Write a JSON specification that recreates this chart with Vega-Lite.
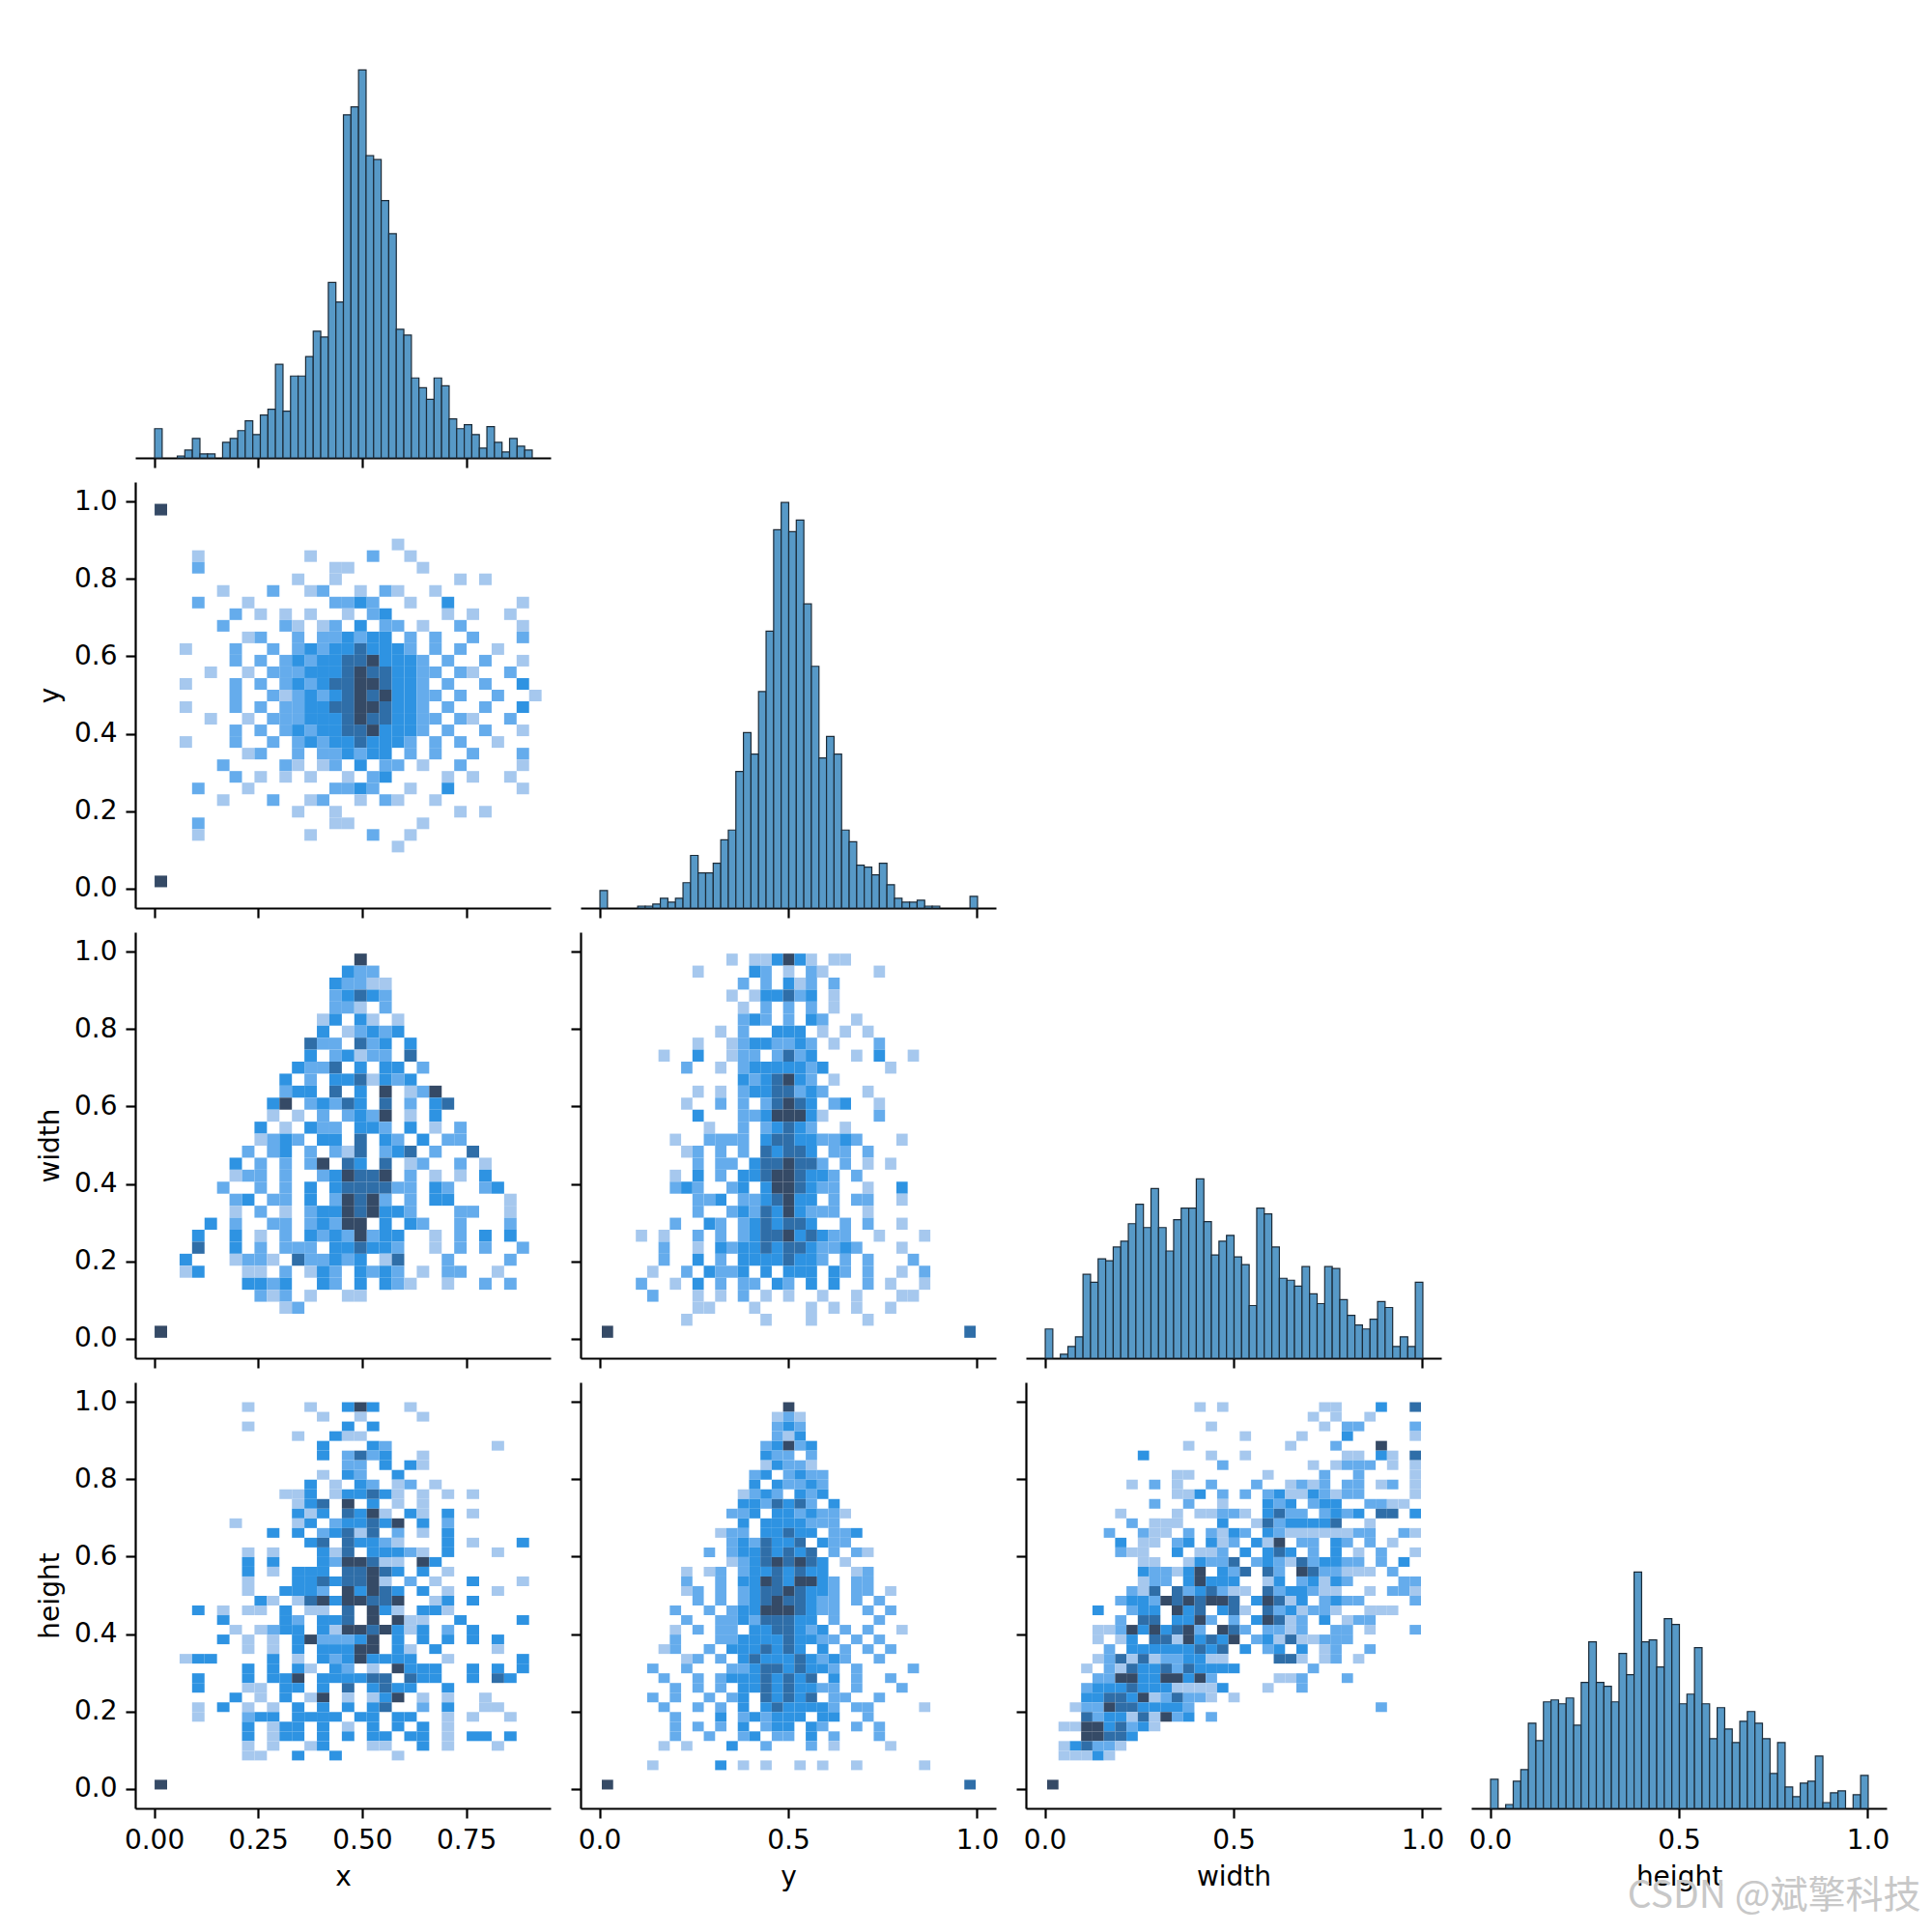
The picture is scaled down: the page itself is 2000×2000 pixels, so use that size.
{
  "$schema": "https://vega.github.io/schema/vega-lite/v6.json",
  "background": "white",
  "padding": {"left": 38, "top": 33, "right": 0, "bottom": 0},
  "columns": 4,
  "bounds": "flush",
  "spacing": {"row": 25, "column": 31},
  "datasets": {
    "hx": [
      {"b":0,"c":15},{"b":0.0545,"c":1},{"b":0.0726,"c":4},{"b":0.0908,"c":10},{"b":0.1089,"c":2},{"b":0.1271,"c":2},
      {"b":0.1634,"c":8},{"b":0.1815,"c":10},{"b":0.1997,"c":14},{"b":0.2178,"c":19},{"b":0.236,"c":12},{"b":0.2541,"c":22},
      {"b":0.2723,"c":25},{"b":0.2904,"c":48},{"b":0.3086,"c":24},{"b":0.3267,"c":42},{"b":0.3449,"c":42},{"b":0.363,"c":52},
      {"b":0.3812,"c":65},{"b":0.3993,"c":62},{"b":0.4175,"c":90},{"b":0.4356,"c":80},{"b":0.4538,"c":176},{"b":0.4719,"c":180},
      {"b":0.4901,"c":199},{"b":0.5082,"c":155},{"b":0.5264,"c":153},{"b":0.5445,"c":132},{"b":0.5627,"c":115},{"b":0.5808,"c":66},
      {"b":0.599,"c":63},{"b":0.6171,"c":41},{"b":0.6353,"c":36},{"b":0.6534,"c":30},{"b":0.6716,"c":41},{"b":0.6897,"c":37},
      {"b":0.7079,"c":20},{"b":0.726,"c":15},{"b":0.7442,"c":17},{"b":0.7623,"c":12},{"b":0.7805,"c":5},{"b":0.7986,"c":16},
      {"b":0.8168,"c":8},{"b":0.8349,"c":3},{"b":0.8531,"c":10},{"b":0.8712,"c":6},{"b":0.8894,"c":4}
    ],
    "hy": [
      {"b":0,"c":9},{"b":0.1,"c":1},{"b":0.12,"c":1},{"b":0.14,"c":2},{"b":0.16,"c":5},{"b":0.18,"c":3},{"b":0.2,"c":5},
      {"b":0.22,"c":13},{"b":0.24,"c":27},{"b":0.26,"c":18},{"b":0.28,"c":18},{"b":0.3,"c":23},{"b":0.32,"c":35},{"b":0.34,"c":40},
      {"b":0.36,"c":70},{"b":0.38,"c":90},{"b":0.4,"c":79},{"b":0.42,"c":111},{"b":0.44,"c":142},{"b":0.46,"c":194},{"b":0.48,"c":208},
      {"b":0.5,"c":193},{"b":0.52,"c":199},{"b":0.54,"c":156},{"b":0.56,"c":124},{"b":0.58,"c":77},{"b":0.6,"c":88},{"b":0.62,"c":79},
      {"b":0.64,"c":40},{"b":0.66,"c":34},{"b":0.68,"c":22},{"b":0.7,"c":21},{"b":0.72,"c":17},{"b":0.74,"c":23},{"b":0.76,"c":12},
      {"b":0.78,"c":5},{"b":0.8,"c":3},{"b":0.82,"c":3},{"b":0.84,"c":4},{"b":0.86,"c":1},{"b":0.88,"c":1},{"b":0.98,"c":6}
    ],
    "hw": [
      {"b":0,"c":15},{"b":0.04,"c":2},{"b":0.06,"c":6},{"b":0.08,"c":11},{"b":0.1,"c":43},{"b":0.12,"c":39},{"b":0.14,"c":51},
      {"b":0.16,"c":50},{"b":0.18,"c":57},{"b":0.2,"c":60},{"b":0.22,"c":69},{"b":0.24,"c":79},{"b":0.26,"c":67},{"b":0.28,"c":87},
      {"b":0.3,"c":67},{"b":0.32,"c":55},{"b":0.34,"c":71},{"b":0.36,"c":77},{"b":0.38,"c":77},{"b":0.4,"c":92},{"b":0.42,"c":70},
      {"b":0.44,"c":53},{"b":0.46,"c":60},{"b":0.48,"c":63},{"b":0.5,"c":52},{"b":0.52,"c":48},{"b":0.54,"c":27},{"b":0.56,"c":77},
      {"b":0.58,"c":74},{"b":0.6,"c":57},{"b":0.62,"c":41},{"b":0.64,"c":40},{"b":0.66,"c":37},{"b":0.68,"c":47},{"b":0.7,"c":33},
      {"b":0.72,"c":28},{"b":0.74,"c":47},{"b":0.76,"c":46},{"b":0.78,"c":30},{"b":0.8,"c":22},{"b":0.82,"c":17},{"b":0.84,"c":15},
      {"b":0.86,"c":20},{"b":0.88,"c":29},{"b":0.9,"c":26},{"b":0.92,"c":6},{"b":0.94,"c":11},{"b":0.96,"c":6},{"b":0.98,"c":39}
    ],
    "hh": [
      {"b":0,"c":15},{"b":0.04,"c":2},{"b":0.06,"c":14},{"b":0.08,"c":20},{"b":0.1,"c":44},{"b":0.12,"c":35},{"b":0.14,"c":55},
      {"b":0.16,"c":56},{"b":0.18,"c":54},{"b":0.2,"c":57},{"b":0.22,"c":43},{"b":0.24,"c":65},{"b":0.26,"c":86},{"b":0.28,"c":65},
      {"b":0.3,"c":63},{"b":0.32,"c":55},{"b":0.34,"c":80},{"b":0.36,"c":69},{"b":0.38,"c":122},{"b":0.4,"c":86},{"b":0.42,"c":87},
      {"b":0.44,"c":73},{"b":0.46,"c":98},{"b":0.48,"c":95},{"b":0.5,"c":54},{"b":0.52,"c":59},{"b":0.54,"c":83},{"b":0.56,"c":54},
      {"b":0.58,"c":36},{"b":0.6,"c":52},{"b":0.62,"c":41},{"b":0.64,"c":34},{"b":0.66,"c":45},{"b":0.68,"c":50},{"b":0.7,"c":44},
      {"b":0.72,"c":36},{"b":0.74,"c":18},{"b":0.76,"c":34},{"b":0.78,"c":11},{"b":0.8,"c":6},{"b":0.82,"c":13},{"b":0.84,"c":14},
      {"b":0.86,"c":27},{"b":0.88,"c":3},{"b":0.9,"c":8},{"b":0.92,"c":9},{"b":0.96,"c":7},{"b":0.98,"c":17}
    ],
    "xy": [
      {"u":0,"v":0.965,"n":5},{"u":0,"v":0.005,"n":5},
      {"u":0.57,"v":0.875,"n":1},
      {"u":0.09,"v":0.845,"n":1},{"u":0.36,"v":0.845,"n":1},{"u":0.51,"v":0.845,"n":2},{"u":0.6,"v":0.845,"n":1},
      {"u":0.09,"v":0.815,"n":2},{"u":0.42,"v":0.815,"n":1},{"u":0.45,"v":0.815,"n":1},{"u":0.63,"v":0.815,"n":1},
      {"u":0.33,"v":0.785,"n":1},{"u":0.42,"v":0.785,"n":1},{"u":0.72,"v":0.785,"n":1},{"u":0.78,"v":0.785,"n":1},
      {"u":0.15,"v":0.755,"n":1},{"u":0.27,"v":0.755,"n":2},{"u":0.36,"v":0.755,"n":1},{"u":0.39,"v":0.755,"n":2},{"u":0.48,"v":0.755,"n":1},{"u":0.54,"v":0.755,"n":2},{"u":0.57,"v":0.755,"n":1},{"u":0.66,"v":0.755,"n":1},
      {"u":0.09,"v":0.725,"n":2},{"u":0.21,"v":0.725,"n":1},{"u":0.42,"v":0.725,"n":2},{"u":0.45,"v":0.725,"n":2},{"u":0.48,"v":0.725,"n":3},{"u":0.51,"v":0.725,"n":2},{"u":0.6,"v":0.725,"n":1},{"u":0.69,"v":0.725,"n":3},{"u":0.87,"v":0.725,"n":1},
      {"u":0.18,"v":0.695,"n":2},{"u":0.24,"v":0.695,"n":1},{"u":0.3,"v":0.695,"n":1},{"u":0.36,"v":0.695,"n":1},{"u":0.45,"v":0.695,"n":1},{"u":0.51,"v":0.695,"n":2},{"u":0.54,"v":0.695,"n":3},{"u":0.69,"v":0.695,"n":1},{"u":0.75,"v":0.695,"n":1},{"u":0.84,"v":0.695,"n":1},
      {"u":0.15,"v":0.665,"n":2},{"u":0.3,"v":0.665,"n":2},{"u":0.33,"v":0.665,"n":1},{"u":0.39,"v":0.665,"n":1},{"u":0.42,"v":0.665,"n":2},{"u":0.48,"v":0.665,"n":3},{"u":0.54,"v":0.665,"n":2},{"u":0.57,"v":0.665,"n":2},{"u":0.63,"v":0.665,"n":1},{"u":0.72,"v":0.665,"n":2},{"u":0.87,"v":0.665,"n":1},
      {"u":0.21,"v":0.635,"n":1},{"u":0.24,"v":0.635,"n":2},{"u":0.33,"v":0.635,"n":2},{"u":0.39,"v":0.635,"n":2},{"u":0.42,"v":0.635,"n":2},{"u":0.45,"v":0.635,"n":3},{"u":0.48,"v":0.635,"n":2},{"u":0.51,"v":0.635,"n":3},{"u":0.54,"v":0.635,"n":3},{"u":0.6,"v":0.635,"n":2},{"u":0.66,"v":0.635,"n":2},{"u":0.75,"v":0.635,"n":2},{"u":0.87,"v":0.635,"n":2},
      {"u":0.06,"v":0.605,"n":1},{"u":0.18,"v":0.605,"n":2},{"u":0.27,"v":0.605,"n":2},{"u":0.33,"v":0.605,"n":2},{"u":0.36,"v":0.605,"n":3},{"u":0.39,"v":0.605,"n":2},{"u":0.42,"v":0.605,"n":3},{"u":0.45,"v":0.605,"n":3},{"u":0.48,"v":0.605,"n":4},{"u":0.51,"v":0.605,"n":3},{"u":0.54,"v":0.605,"n":3},{"u":0.57,"v":0.605,"n":3},{"u":0.6,"v":0.605,"n":2},{"u":0.66,"v":0.605,"n":2},{"u":0.72,"v":0.605,"n":2},{"u":0.81,"v":0.605,"n":1},
      {"u":0.18,"v":0.575,"n":2},{"u":0.24,"v":0.575,"n":2},{"u":0.3,"v":0.575,"n":2},{"u":0.33,"v":0.575,"n":3},{"u":0.36,"v":0.575,"n":2},{"u":0.39,"v":0.575,"n":3},{"u":0.42,"v":0.575,"n":3},{"u":0.45,"v":0.575,"n":4},{"u":0.48,"v":0.575,"n":4},{"u":0.51,"v":0.575,"n":5},{"u":0.54,"v":0.575,"n":3},{"u":0.57,"v":0.575,"n":3},{"u":0.6,"v":0.575,"n":3},{"u":0.63,"v":0.575,"n":2},{"u":0.69,"v":0.575,"n":2},{"u":0.78,"v":0.575,"n":2},{"u":0.87,"v":0.575,"n":1},
      {"u":0.12,"v":0.545,"n":1},{"u":0.21,"v":0.545,"n":1},{"u":0.27,"v":0.545,"n":2},{"u":0.3,"v":0.545,"n":2},{"u":0.33,"v":0.545,"n":2},{"u":0.36,"v":0.545,"n":3},{"u":0.39,"v":0.545,"n":3},{"u":0.42,"v":0.545,"n":3},{"u":0.45,"v":0.545,"n":4},{"u":0.48,"v":0.545,"n":5},{"u":0.51,"v":0.545,"n":4},{"u":0.54,"v":0.545,"n":4},{"u":0.57,"v":0.545,"n":3},{"u":0.6,"v":0.545,"n":3},{"u":0.63,"v":0.545,"n":2},{"u":0.66,"v":0.545,"n":2},{"u":0.72,"v":0.545,"n":2},{"u":0.75,"v":0.545,"n":1},{"u":0.84,"v":0.545,"n":2},
      {"u":0.06,"v":0.515,"n":1},{"u":0.18,"v":0.515,"n":2},{"u":0.24,"v":0.515,"n":2},{"u":0.3,"v":0.515,"n":2},{"u":0.33,"v":0.515,"n":3},{"u":0.36,"v":0.515,"n":2},{"u":0.39,"v":0.515,"n":3},{"u":0.42,"v":0.515,"n":4},{"u":0.45,"v":0.515,"n":4},{"u":0.48,"v":0.515,"n":5},{"u":0.51,"v":0.515,"n":5},{"u":0.54,"v":0.515,"n":4},{"u":0.57,"v":0.515,"n":3},{"u":0.6,"v":0.515,"n":3},{"u":0.63,"v":0.515,"n":2},{"u":0.69,"v":0.515,"n":2},{"u":0.78,"v":0.515,"n":2},{"u":0.87,"v":0.515,"n":3},
      {"u":0.18,"v":0.485,"n":2},{"u":0.27,"v":0.485,"n":2},{"u":0.3,"v":0.485,"n":1},{"u":0.33,"v":0.485,"n":2},{"u":0.36,"v":0.485,"n":3},{"u":0.39,"v":0.485,"n":2},{"u":0.42,"v":0.485,"n":3},{"u":0.45,"v":0.485,"n":4},{"u":0.48,"v":0.485,"n":5},{"u":0.51,"v":0.485,"n":4},{"u":0.54,"v":0.485,"n":5},{"u":0.57,"v":0.485,"n":3},{"u":0.6,"v":0.485,"n":3},{"u":0.63,"v":0.485,"n":2},{"u":0.66,"v":0.485,"n":2},{"u":0.72,"v":0.485,"n":2},{"u":0.81,"v":0.485,"n":2},{"u":0.9,"v":0.485,"n":1},
      {"u":0.06,"v":0.455,"n":1},{"u":0.18,"v":0.455,"n":2},{"u":0.24,"v":0.455,"n":2},{"u":0.3,"v":0.455,"n":2},{"u":0.33,"v":0.455,"n":2},{"u":0.36,"v":0.455,"n":3},{"u":0.39,"v":0.455,"n":3},{"u":0.42,"v":0.455,"n":4},{"u":0.45,"v":0.455,"n":4},{"u":0.48,"v":0.455,"n":5},{"u":0.51,"v":0.455,"n":5},{"u":0.54,"v":0.455,"n":4},{"u":0.57,"v":0.455,"n":3},{"u":0.6,"v":0.455,"n":3},{"u":0.63,"v":0.455,"n":2},{"u":0.69,"v":0.455,"n":2},{"u":0.78,"v":0.455,"n":2},{"u":0.87,"v":0.455,"n":3},
      {"u":0.12,"v":0.425,"n":1},{"u":0.21,"v":0.425,"n":1},{"u":0.27,"v":0.425,"n":2},{"u":0.3,"v":0.425,"n":2},{"u":0.33,"v":0.425,"n":2},{"u":0.36,"v":0.425,"n":3},{"u":0.39,"v":0.425,"n":3},{"u":0.42,"v":0.425,"n":3},{"u":0.45,"v":0.425,"n":4},{"u":0.48,"v":0.425,"n":5},{"u":0.51,"v":0.425,"n":4},{"u":0.54,"v":0.425,"n":4},{"u":0.57,"v":0.425,"n":3},{"u":0.6,"v":0.425,"n":3},{"u":0.63,"v":0.425,"n":2},{"u":0.66,"v":0.425,"n":2},{"u":0.72,"v":0.425,"n":2},{"u":0.75,"v":0.425,"n":1},{"u":0.84,"v":0.425,"n":2},
      {"u":0.18,"v":0.395,"n":2},{"u":0.24,"v":0.395,"n":2},{"u":0.3,"v":0.395,"n":2},{"u":0.33,"v":0.395,"n":3},{"u":0.36,"v":0.395,"n":2},{"u":0.39,"v":0.395,"n":3},{"u":0.42,"v":0.395,"n":3},{"u":0.45,"v":0.395,"n":4},{"u":0.48,"v":0.395,"n":4},{"u":0.51,"v":0.395,"n":5},{"u":0.54,"v":0.395,"n":3},{"u":0.57,"v":0.395,"n":3},{"u":0.6,"v":0.395,"n":3},{"u":0.63,"v":0.395,"n":2},{"u":0.69,"v":0.395,"n":2},{"u":0.78,"v":0.395,"n":2},{"u":0.87,"v":0.395,"n":1},
      {"u":0.06,"v":0.365,"n":1},{"u":0.18,"v":0.365,"n":2},{"u":0.27,"v":0.365,"n":2},{"u":0.33,"v":0.365,"n":2},{"u":0.36,"v":0.365,"n":3},{"u":0.39,"v":0.365,"n":2},{"u":0.42,"v":0.365,"n":3},{"u":0.45,"v":0.365,"n":3},{"u":0.48,"v":0.365,"n":4},{"u":0.51,"v":0.365,"n":3},{"u":0.54,"v":0.365,"n":3},{"u":0.57,"v":0.365,"n":3},{"u":0.6,"v":0.365,"n":2},{"u":0.66,"v":0.365,"n":2},{"u":0.72,"v":0.365,"n":2},{"u":0.81,"v":0.365,"n":1},
      {"u":0.21,"v":0.335,"n":1},{"u":0.24,"v":0.335,"n":2},{"u":0.33,"v":0.335,"n":2},{"u":0.39,"v":0.335,"n":2},{"u":0.42,"v":0.335,"n":2},{"u":0.45,"v":0.335,"n":3},{"u":0.48,"v":0.335,"n":2},{"u":0.51,"v":0.335,"n":3},{"u":0.54,"v":0.335,"n":3},{"u":0.6,"v":0.335,"n":2},{"u":0.66,"v":0.335,"n":2},{"u":0.75,"v":0.335,"n":2},{"u":0.87,"v":0.335,"n":2},
      {"u":0.15,"v":0.305,"n":2},{"u":0.3,"v":0.305,"n":2},{"u":0.33,"v":0.305,"n":1},{"u":0.39,"v":0.305,"n":1},{"u":0.42,"v":0.305,"n":2},{"u":0.48,"v":0.305,"n":3},{"u":0.54,"v":0.305,"n":2},{"u":0.57,"v":0.305,"n":2},{"u":0.63,"v":0.305,"n":1},{"u":0.72,"v":0.305,"n":2},{"u":0.87,"v":0.305,"n":1},
      {"u":0.18,"v":0.275,"n":2},{"u":0.24,"v":0.275,"n":1},{"u":0.3,"v":0.275,"n":1},{"u":0.36,"v":0.275,"n":1},{"u":0.45,"v":0.275,"n":1},{"u":0.51,"v":0.275,"n":2},{"u":0.54,"v":0.275,"n":3},{"u":0.69,"v":0.275,"n":1},{"u":0.75,"v":0.275,"n":1},{"u":0.84,"v":0.275,"n":1},
      {"u":0.09,"v":0.245,"n":2},{"u":0.21,"v":0.245,"n":1},{"u":0.42,"v":0.245,"n":2},{"u":0.45,"v":0.245,"n":2},{"u":0.48,"v":0.245,"n":3},{"u":0.51,"v":0.245,"n":2},{"u":0.6,"v":0.245,"n":1},{"u":0.69,"v":0.245,"n":3},{"u":0.87,"v":0.245,"n":1},
      {"u":0.15,"v":0.215,"n":1},{"u":0.27,"v":0.215,"n":2},{"u":0.36,"v":0.215,"n":1},{"u":0.39,"v":0.215,"n":2},{"u":0.48,"v":0.215,"n":1},{"u":0.54,"v":0.215,"n":2},{"u":0.57,"v":0.215,"n":1},{"u":0.66,"v":0.215,"n":1},
      {"u":0.33,"v":0.185,"n":1},{"u":0.42,"v":0.185,"n":1},{"u":0.72,"v":0.185,"n":1},{"u":0.78,"v":0.185,"n":1},
      {"u":0.09,"v":0.155,"n":2},{"u":0.42,"v":0.155,"n":1},{"u":0.45,"v":0.155,"n":1},{"u":0.63,"v":0.155,"n":1},
      {"u":0.09,"v":0.125,"n":1},{"u":0.36,"v":0.125,"n":1},{"u":0.51,"v":0.125,"n":2},{"u":0.6,"v":0.125,"n":1},
      {"u":0.57,"v":0.095,"n":1}
    ],
    "xw": [
      {"u":0,"v":0.004,"n":5},
      {"u":0.48,"v":0.965,"n":5},
      {"u":0.45,"v":0.934,"n":3},{"u":0.48,"v":0.934,"n":2},{"u":0.51,"v":0.934,"n":2},
      {"u":0.42,"v":0.903,"n":3},{"u":0.45,"v":0.903,"n":2},{"u":0.48,"v":0.903,"n":2},{"u":0.51,"v":0.903,"n":1},{"u":0.54,"v":0.903,"n":1},
      {"u":0.42,"v":0.872,"n":2},{"u":0.45,"v":0.872,"n":3},{"u":0.48,"v":0.872,"n":4},{"u":0.51,"v":0.872,"n":3},{"u":0.54,"v":0.872,"n":2},
      {"u":0.42,"v":0.841,"n":2},{"u":0.45,"v":0.841,"n":2},{"u":0.48,"v":0.841,"n":1},{"u":0.54,"v":0.841,"n":2},
      {"u":0.39,"v":0.81,"n":1},{"u":0.42,"v":0.81,"n":3},{"u":0.48,"v":0.81,"n":3},{"u":0.51,"v":0.81,"n":1},{"u":0.57,"v":0.81,"n":1},
      {"u":0.39,"v":0.779,"n":3},{"u":0.45,"v":0.779,"n":1},{"u":0.48,"v":0.779,"n":2},{"u":0.51,"v":0.779,"n":3},{"u":0.54,"v":0.779,"n":2},{"u":0.57,"v":0.779,"n":3},
      {"u":0.36,"v":0.748,"n":4},{"u":0.39,"v":0.748,"n":2},{"u":0.42,"v":0.748,"n":2},{"u":0.48,"v":0.748,"n":4},{"u":0.51,"v":0.748,"n":2},{"u":0.54,"v":0.748,"n":3},{"u":0.6,"v":0.748,"n":3},
      {"u":0.36,"v":0.717,"n":3},{"u":0.42,"v":0.717,"n":2},{"u":0.45,"v":0.717,"n":3},{"u":0.48,"v":0.717,"n":1},{"u":0.51,"v":0.717,"n":2},{"u":0.54,"v":0.717,"n":2},{"u":0.6,"v":0.717,"n":4},
      {"u":0.33,"v":0.686,"n":3},{"u":0.36,"v":0.686,"n":2},{"u":0.39,"v":0.686,"n":2},{"u":0.42,"v":0.686,"n":4},{"u":0.48,"v":0.686,"n":3},{"u":0.54,"v":0.686,"n":3},{"u":0.57,"v":0.686,"n":3},{"u":0.63,"v":0.686,"n":2},
      {"u":0.3,"v":0.655,"n":3},{"u":0.36,"v":0.655,"n":2},{"u":0.42,"v":0.655,"n":3},{"u":0.45,"v":0.655,"n":3},{"u":0.48,"v":0.655,"n":4},{"u":0.51,"v":0.655,"n":1},{"u":0.54,"v":0.655,"n":3},{"u":0.57,"v":0.655,"n":2},{"u":0.6,"v":0.655,"n":3},
      {"u":0.3,"v":0.624,"n":2},{"u":0.33,"v":0.624,"n":3},{"u":0.36,"v":0.624,"n":3},{"u":0.42,"v":0.624,"n":4},{"u":0.48,"v":0.624,"n":3},{"u":0.54,"v":0.624,"n":5},{"u":0.6,"v":0.624,"n":1},{"u":0.63,"v":0.624,"n":2},{"u":0.66,"v":0.624,"n":5},
      {"u":0.27,"v":0.593,"n":3},{"u":0.3,"v":0.593,"n":5},{"u":0.36,"v":0.593,"n":2},{"u":0.39,"v":0.593,"n":3},{"u":0.42,"v":0.593,"n":2},{"u":0.45,"v":0.593,"n":4},{"u":0.48,"v":0.593,"n":3},{"u":0.54,"v":0.593,"n":4},{"u":0.6,"v":0.593,"n":2},{"u":0.66,"v":0.593,"n":3},{"u":0.69,"v":0.593,"n":4},
      {"u":0.27,"v":0.562,"n":1},{"u":0.33,"v":0.562,"n":1},{"u":0.39,"v":0.562,"n":2},{"u":0.45,"v":0.562,"n":2},{"u":0.48,"v":0.562,"n":3},{"u":0.51,"v":0.562,"n":2},{"u":0.54,"v":0.562,"n":5},{"u":0.6,"v":0.562,"n":1},{"u":0.66,"v":0.562,"n":3},
      {"u":0.24,"v":0.531,"n":3},{"u":0.3,"v":0.531,"n":1},{"u":0.36,"v":0.531,"n":3},{"u":0.39,"v":0.531,"n":2},{"u":0.42,"v":0.531,"n":2},{"u":0.48,"v":0.531,"n":3},{"u":0.51,"v":0.531,"n":3},{"u":0.54,"v":0.531,"n":2},{"u":0.6,"v":0.531,"n":3},{"u":0.66,"v":0.531,"n":1},{"u":0.72,"v":0.531,"n":2},
      {"u":0.24,"v":0.5,"n":1},{"u":0.27,"v":0.5,"n":2},{"u":0.3,"v":0.5,"n":3},{"u":0.33,"v":0.5,"n":2},{"u":0.39,"v":0.5,"n":3},{"u":0.42,"v":0.5,"n":3},{"u":0.48,"v":0.5,"n":4},{"u":0.54,"v":0.5,"n":3},{"u":0.57,"v":0.5,"n":2},{"u":0.63,"v":0.5,"n":3},{"u":0.69,"v":0.5,"n":2},{"u":0.72,"v":0.5,"n":2},
      {"u":0.21,"v":0.469,"n":2},{"u":0.27,"v":0.469,"n":2},{"u":0.3,"v":0.469,"n":3},{"u":0.36,"v":0.469,"n":2},{"u":0.42,"v":0.469,"n":2},{"u":0.45,"v":0.469,"n":1},{"u":0.48,"v":0.469,"n":4},{"u":0.54,"v":0.469,"n":2},{"u":0.57,"v":0.469,"n":3},{"u":0.6,"v":0.469,"n":4},{"u":0.66,"v":0.469,"n":2},{"u":0.75,"v":0.469,"n":4},
      {"u":0.18,"v":0.438,"n":3},{"u":0.24,"v":0.438,"n":2},{"u":0.3,"v":0.438,"n":2},{"u":0.36,"v":0.438,"n":2},{"u":0.39,"v":0.438,"n":5},{"u":0.45,"v":0.438,"n":4},{"u":0.48,"v":0.438,"n":3},{"u":0.54,"v":0.438,"n":4},{"u":0.6,"v":0.438,"n":1},{"u":0.63,"v":0.438,"n":2},{"u":0.72,"v":0.438,"n":2},{"u":0.78,"v":0.438,"n":1},
      {"u":0.18,"v":0.407,"n":1},{"u":0.21,"v":0.407,"n":2},{"u":0.24,"v":0.407,"n":2},{"u":0.3,"v":0.407,"n":2},{"u":0.39,"v":0.407,"n":2},{"u":0.42,"v":0.407,"n":3},{"u":0.45,"v":0.407,"n":5},{"u":0.48,"v":0.407,"n":4},{"u":0.51,"v":0.407,"n":4},{"u":0.54,"v":0.407,"n":5},{"u":0.6,"v":0.407,"n":2},{"u":0.66,"v":0.407,"n":1},{"u":0.72,"v":0.407,"n":1},{"u":0.78,"v":0.407,"n":3},
      {"u":0.15,"v":0.376,"n":2},{"u":0.24,"v":0.376,"n":2},{"u":0.3,"v":0.376,"n":2},{"u":0.36,"v":0.376,"n":3},{"u":0.42,"v":0.376,"n":3},{"u":0.45,"v":0.376,"n":4},{"u":0.48,"v":0.376,"n":4},{"u":0.51,"v":0.376,"n":4},{"u":0.54,"v":0.376,"n":4},{"u":0.57,"v":0.376,"n":2},{"u":0.6,"v":0.376,"n":2},{"u":0.66,"v":0.376,"n":3},{"u":0.69,"v":0.376,"n":2},{"u":0.78,"v":0.376,"n":2},{"u":0.81,"v":0.376,"n":3},
      {"u":0.18,"v":0.345,"n":2},{"u":0.21,"v":0.345,"n":3},{"u":0.27,"v":0.345,"n":2},{"u":0.3,"v":0.345,"n":2},{"u":0.36,"v":0.345,"n":3},{"u":0.42,"v":0.345,"n":2},{"u":0.45,"v":0.345,"n":5},{"u":0.48,"v":0.345,"n":4},{"u":0.51,"v":0.345,"n":5},{"u":0.54,"v":0.345,"n":2},{"u":0.6,"v":0.345,"n":2},{"u":0.66,"v":0.345,"n":3},{"u":0.69,"v":0.345,"n":3},{"u":0.84,"v":0.345,"n":1},
      {"u":0.18,"v":0.314,"n":1},{"u":0.24,"v":0.314,"n":2},{"u":0.3,"v":0.314,"n":1},{"u":0.36,"v":0.314,"n":2},{"u":0.39,"v":0.314,"n":3},{"u":0.42,"v":0.314,"n":3},{"u":0.45,"v":0.314,"n":5},{"u":0.48,"v":0.314,"n":4},{"u":0.51,"v":0.314,"n":5},{"u":0.54,"v":0.314,"n":3},{"u":0.57,"v":0.314,"n":3},{"u":0.6,"v":0.314,"n":2},{"u":0.72,"v":0.314,"n":2},{"u":0.75,"v":0.314,"n":2},{"u":0.84,"v":0.314,"n":1},
      {"u":0.12,"v":0.283,"n":3},{"u":0.18,"v":0.283,"n":2},{"u":0.27,"v":0.283,"n":2},{"u":0.3,"v":0.283,"n":2},{"u":0.36,"v":0.283,"n":2},{"u":0.39,"v":0.283,"n":3},{"u":0.42,"v":0.283,"n":2},{"u":0.45,"v":0.283,"n":5},{"u":0.48,"v":0.283,"n":5},{"u":0.54,"v":0.283,"n":3},{"u":0.6,"v":0.283,"n":3},{"u":0.63,"v":0.283,"n":2},{"u":0.72,"v":0.283,"n":2},{"u":0.84,"v":0.283,"n":2},
      {"u":0.09,"v":0.252,"n":3},{"u":0.18,"v":0.252,"n":3},{"u":0.24,"v":0.252,"n":1},{"u":0.3,"v":0.252,"n":2},{"u":0.36,"v":0.252,"n":3},{"u":0.39,"v":0.252,"n":2},{"u":0.42,"v":0.252,"n":3},{"u":0.45,"v":0.252,"n":2},{"u":0.48,"v":0.252,"n":5},{"u":0.51,"v":0.252,"n":2},{"u":0.54,"v":0.252,"n":3},{"u":0.57,"v":0.252,"n":3},{"u":0.66,"v":0.252,"n":1},{"u":0.72,"v":0.252,"n":2},{"u":0.78,"v":0.252,"n":3},{"u":0.84,"v":0.252,"n":3},
      {"u":0.09,"v":0.221,"n":4},{"u":0.18,"v":0.221,"n":3},{"u":0.24,"v":0.221,"n":2},{"u":0.3,"v":0.221,"n":2},{"u":0.33,"v":0.221,"n":2},{"u":0.36,"v":0.221,"n":2},{"u":0.42,"v":0.221,"n":3},{"u":0.45,"v":0.221,"n":3},{"u":0.48,"v":0.221,"n":4},{"u":0.51,"v":0.221,"n":3},{"u":0.54,"v":0.221,"n":3},{"u":0.57,"v":0.221,"n":2},{"u":0.66,"v":0.221,"n":1},{"u":0.72,"v":0.221,"n":2},{"u":0.78,"v":0.221,"n":2},{"u":0.87,"v":0.221,"n":2},
      {"u":0.06,"v":0.19,"n":3},{"u":0.18,"v":0.19,"n":1},{"u":0.21,"v":0.19,"n":2},{"u":0.24,"v":0.19,"n":2},{"u":0.27,"v":0.19,"n":1},{"u":0.33,"v":0.19,"n":4},{"u":0.36,"v":0.19,"n":2},{"u":0.39,"v":0.19,"n":2},{"u":0.42,"v":0.19,"n":3},{"u":0.45,"v":0.19,"n":2},{"u":0.48,"v":0.19,"n":3},{"u":0.54,"v":0.19,"n":1},{"u":0.57,"v":0.19,"n":4},{"u":0.69,"v":0.19,"n":2},{"u":0.84,"v":0.19,"n":2},
      {"u":0.06,"v":0.159,"n":1},{"u":0.09,"v":0.159,"n":3},{"u":0.21,"v":0.159,"n":1},{"u":0.24,"v":0.159,"n":1},{"u":0.3,"v":0.159,"n":2},{"u":0.36,"v":0.159,"n":1},{"u":0.39,"v":0.159,"n":3},{"u":0.42,"v":0.159,"n":2},{"u":0.48,"v":0.159,"n":3},{"u":0.51,"v":0.159,"n":2},{"u":0.54,"v":0.159,"n":3},{"u":0.57,"v":0.159,"n":2},{"u":0.63,"v":0.159,"n":1},{"u":0.69,"v":0.159,"n":2},{"u":0.72,"v":0.159,"n":2},{"u":0.81,"v":0.159,"n":1},
      {"u":0.21,"v":0.128,"n":3},{"u":0.24,"v":0.128,"n":3},{"u":0.27,"v":0.128,"n":2},{"u":0.3,"v":0.128,"n":3},{"u":0.39,"v":0.128,"n":3},{"u":0.42,"v":0.128,"n":2},{"u":0.48,"v":0.128,"n":3},{"u":0.54,"v":0.128,"n":3},{"u":0.57,"v":0.128,"n":2},{"u":0.6,"v":0.128,"n":1},{"u":0.69,"v":0.128,"n":1},{"u":0.78,"v":0.128,"n":2},{"u":0.84,"v":0.128,"n":2},
      {"u":0.24,"v":0.097,"n":2},{"u":0.27,"v":0.097,"n":1},{"u":0.3,"v":0.097,"n":2},{"u":0.36,"v":0.097,"n":1},{"u":0.45,"v":0.097,"n":1},{"u":0.48,"v":0.097,"n":1},
      {"u":0.3,"v":0.066,"n":1},{"u":0.33,"v":0.066,"n":2}
    ],
    "yw": [
      {"u":0.005,"v":0.004,"n":5},{"u":0.965,"v":0.004,"n":4},
      {"u":0.335,"v":0.965,"n":1},{"u":0.395,"v":0.965,"n":1},{"u":0.425,"v":0.965,"n":1},{"u":0.455,"v":0.965,"n":3},{"u":0.485,"v":0.965,"n":5},{"u":0.515,"v":0.965,"n":3},{"u":0.545,"v":0.965,"n":1},{"u":0.605,"v":0.965,"n":1},{"u":0.635,"v":0.965,"n":1},
      {"u":0.245,"v":0.934,"n":1},{"u":0.395,"v":0.934,"n":3},{"u":0.425,"v":0.934,"n":2},{"u":0.485,"v":0.934,"n":1},{"u":0.545,"v":0.934,"n":2},{"u":0.575,"v":0.934,"n":1},{"u":0.725,"v":0.934,"n":1},
      {"u":0.365,"v":0.903,"n":2},{"u":0.425,"v":0.903,"n":2},{"u":0.485,"v":0.903,"n":3},{"u":0.515,"v":0.903,"n":1},{"u":0.545,"v":0.903,"n":2},{"u":0.605,"v":0.903,"n":2},
      {"u":0.335,"v":0.872,"n":1},{"u":0.395,"v":0.872,"n":1},{"u":0.425,"v":0.872,"n":3},{"u":0.455,"v":0.872,"n":3},{"u":0.485,"v":0.872,"n":4},{"u":0.515,"v":0.872,"n":2},{"u":0.545,"v":0.872,"n":3},{"u":0.605,"v":0.872,"n":1},
      {"u":0.365,"v":0.841,"n":1},{"u":0.425,"v":0.841,"n":2},{"u":0.485,"v":0.841,"n":2},{"u":0.545,"v":0.841,"n":2},{"u":0.605,"v":0.841,"n":1},
      {"u":0.365,"v":0.81,"n":2},{"u":0.395,"v":0.81,"n":3},{"u":0.425,"v":0.81,"n":2},{"u":0.485,"v":0.81,"n":2},{"u":0.545,"v":0.81,"n":3},{"u":0.575,"v":0.81,"n":2},{"u":0.665,"v":0.81,"n":1},
      {"u":0.305,"v":0.779,"n":1},{"u":0.365,"v":0.779,"n":2},{"u":0.455,"v":0.779,"n":3},{"u":0.485,"v":0.779,"n":3},{"u":0.515,"v":0.779,"n":3},{"u":0.575,"v":0.779,"n":1},{"u":0.635,"v":0.779,"n":1},{"u":0.695,"v":0.779,"n":1},
      {"u":0.245,"v":0.748,"n":1},{"u":0.335,"v":0.748,"n":1},{"u":0.365,"v":0.748,"n":2},{"u":0.395,"v":0.748,"n":3},{"u":0.425,"v":0.748,"n":3},{"u":0.455,"v":0.748,"n":2},{"u":0.485,"v":0.748,"n":2},{"u":0.515,"v":0.748,"n":3},{"u":0.545,"v":0.748,"n":2},{"u":0.605,"v":0.748,"n":1},{"u":0.725,"v":0.748,"n":2},
      {"u":0.155,"v":0.717,"n":1},{"u":0.245,"v":0.717,"n":3},{"u":0.335,"v":0.717,"n":1},{"u":0.365,"v":0.717,"n":2},{"u":0.395,"v":0.717,"n":2},{"u":0.455,"v":0.717,"n":2},{"u":0.485,"v":0.717,"n":4},{"u":0.515,"v":0.717,"n":2},{"u":0.545,"v":0.717,"n":3},{"u":0.665,"v":0.717,"n":1},{"u":0.725,"v":0.717,"n":3},{"u":0.815,"v":0.717,"n":1},
      {"u":0.215,"v":0.686,"n":2},{"u":0.305,"v":0.686,"n":1},{"u":0.365,"v":0.686,"n":2},{"u":0.395,"v":0.686,"n":3},{"u":0.425,"v":0.686,"n":3},{"u":0.455,"v":0.686,"n":3},{"u":0.485,"v":0.686,"n":3},{"u":0.515,"v":0.686,"n":3},{"u":0.545,"v":0.686,"n":2},{"u":0.575,"v":0.686,"n":3},{"u":0.755,"v":0.686,"n":1},
      {"u":0.365,"v":0.655,"n":3},{"u":0.395,"v":0.655,"n":2},{"u":0.425,"v":0.655,"n":3},{"u":0.455,"v":0.655,"n":4},{"u":0.485,"v":0.655,"n":5},{"u":0.515,"v":0.655,"n":3},{"u":0.545,"v":0.655,"n":2},{"u":0.605,"v":0.655,"n":1},
      {"u":0.245,"v":0.624,"n":1},{"u":0.305,"v":0.624,"n":1},{"u":0.365,"v":0.624,"n":2},{"u":0.395,"v":0.624,"n":3},{"u":0.425,"v":0.624,"n":3},{"u":0.455,"v":0.624,"n":4},{"u":0.485,"v":0.624,"n":4},{"u":0.515,"v":0.624,"n":2},{"u":0.545,"v":0.624,"n":3},{"u":0.575,"v":0.624,"n":2},{"u":0.695,"v":0.624,"n":1},
      {"u":0.215,"v":0.593,"n":1},{"u":0.305,"v":0.593,"n":2},{"u":0.365,"v":0.593,"n":2},{"u":0.425,"v":0.593,"n":2},{"u":0.455,"v":0.593,"n":4},{"u":0.485,"v":0.593,"n":5},{"u":0.515,"v":0.593,"n":4},{"u":0.545,"v":0.593,"n":3},{"u":0.605,"v":0.593,"n":2},{"u":0.635,"v":0.593,"n":3},{"u":0.725,"v":0.593,"n":1},
      {"u":0.245,"v":0.562,"n":3},{"u":0.365,"v":0.562,"n":2},{"u":0.395,"v":0.562,"n":2},{"u":0.425,"v":0.562,"n":3},{"u":0.455,"v":0.562,"n":5},{"u":0.485,"v":0.562,"n":5},{"u":0.515,"v":0.562,"n":5},{"u":0.545,"v":0.562,"n":3},{"u":0.575,"v":0.562,"n":1},{"u":0.725,"v":0.562,"n":2},
      {"u":0.275,"v":0.531,"n":1},{"u":0.365,"v":0.531,"n":2},{"u":0.425,"v":0.531,"n":2},{"u":0.455,"v":0.531,"n":3},{"u":0.485,"v":0.531,"n":4},{"u":0.515,"v":0.531,"n":3},{"u":0.545,"v":0.531,"n":2},{"u":0.635,"v":0.531,"n":1},
      {"u":0.185,"v":0.5,"n":1},{"u":0.275,"v":0.5,"n":2},{"u":0.305,"v":0.5,"n":2},{"u":0.335,"v":0.5,"n":2},{"u":0.365,"v":0.5,"n":2},{"u":0.425,"v":0.5,"n":3},{"u":0.455,"v":0.5,"n":4},{"u":0.485,"v":0.5,"n":4},{"u":0.515,"v":0.5,"n":3},{"u":0.545,"v":0.5,"n":3},{"u":0.575,"v":0.5,"n":2},{"u":0.605,"v":0.5,"n":2},{"u":0.635,"v":0.5,"n":3},{"u":0.665,"v":0.5,"n":2},{"u":0.785,"v":0.5,"n":1},
      {"u":0.215,"v":0.469,"n":1},{"u":0.245,"v":0.469,"n":2},{"u":0.305,"v":0.469,"n":2},{"u":0.365,"v":0.469,"n":2},{"u":0.425,"v":0.469,"n":4},{"u":0.455,"v":0.469,"n":3},{"u":0.485,"v":0.469,"n":4},{"u":0.515,"v":0.469,"n":4},{"u":0.545,"v":0.469,"n":3},{"u":0.605,"v":0.469,"n":2},{"u":0.635,"v":0.469,"n":2},{"u":0.695,"v":0.469,"n":2},
      {"u":0.245,"v":0.438,"n":2},{"u":0.305,"v":0.438,"n":2},{"u":0.335,"v":0.438,"n":2},{"u":0.395,"v":0.438,"n":3},{"u":0.425,"v":0.438,"n":4},{"u":0.455,"v":0.438,"n":4},{"u":0.485,"v":0.438,"n":5},{"u":0.515,"v":0.438,"n":4},{"u":0.545,"v":0.438,"n":4},{"u":0.575,"v":0.438,"n":2},{"u":0.635,"v":0.438,"n":2},{"u":0.695,"v":0.438,"n":1},{"u":0.755,"v":0.438,"n":1},
      {"u":0.185,"v":0.407,"n":1},{"u":0.245,"v":0.407,"n":3},{"u":0.305,"v":0.407,"n":2},{"u":0.365,"v":0.407,"n":3},{"u":0.395,"v":0.407,"n":3},{"u":0.425,"v":0.407,"n":4},{"u":0.455,"v":0.407,"n":5},{"u":0.485,"v":0.407,"n":5},{"u":0.515,"v":0.407,"n":4},{"u":0.545,"v":0.407,"n":3},{"u":0.575,"v":0.407,"n":3},{"u":0.605,"v":0.407,"n":2},{"u":0.665,"v":0.407,"n":2},
      {"u":0.185,"v":0.376,"n":2},{"u":0.215,"v":0.376,"n":3},{"u":0.245,"v":0.376,"n":2},{"u":0.335,"v":0.376,"n":2},{"u":0.365,"v":0.376,"n":3},{"u":0.425,"v":0.376,"n":3},{"u":0.455,"v":0.376,"n":5},{"u":0.485,"v":0.376,"n":5},{"u":0.515,"v":0.376,"n":4},{"u":0.545,"v":0.376,"n":3},{"u":0.575,"v":0.376,"n":2},{"u":0.605,"v":0.376,"n":2},{"u":0.695,"v":0.376,"n":1},{"u":0.785,"v":0.376,"n":3},
      {"u":0.245,"v":0.345,"n":2},{"u":0.275,"v":0.345,"n":2},{"u":0.305,"v":0.345,"n":3},{"u":0.365,"v":0.345,"n":2},{"u":0.395,"v":0.345,"n":2},{"u":0.425,"v":0.345,"n":3},{"u":0.455,"v":0.345,"n":4},{"u":0.485,"v":0.345,"n":5},{"u":0.515,"v":0.345,"n":3},{"u":0.545,"v":0.345,"n":3},{"u":0.605,"v":0.345,"n":2},{"u":0.665,"v":0.345,"n":2},{"u":0.695,"v":0.345,"n":2},{"u":0.785,"v":0.345,"n":1},
      {"u":0.245,"v":0.314,"n":2},{"u":0.335,"v":0.314,"n":2},{"u":0.365,"v":0.314,"n":3},{"u":0.395,"v":0.314,"n":2},{"u":0.425,"v":0.314,"n":4},{"u":0.455,"v":0.314,"n":3},{"u":0.485,"v":0.314,"n":5},{"u":0.515,"v":0.314,"n":3},{"u":0.545,"v":0.314,"n":2},{"u":0.575,"v":0.314,"n":2},{"u":0.605,"v":0.314,"n":2},{"u":0.695,"v":0.314,"n":1},
      {"u":0.185,"v":0.283,"n":2},{"u":0.275,"v":0.283,"n":3},{"u":0.305,"v":0.283,"n":2},{"u":0.365,"v":0.283,"n":2},{"u":0.395,"v":0.283,"n":3},{"u":0.425,"v":0.283,"n":4},{"u":0.455,"v":0.283,"n":3},{"u":0.485,"v":0.283,"n":4},{"u":0.515,"v":0.283,"n":4},{"u":0.545,"v":0.283,"n":3},{"u":0.635,"v":0.283,"n":2},{"u":0.695,"v":0.283,"n":2},{"u":0.785,"v":0.283,"n":1},
      {"u":0.095,"v":0.252,"n":1},{"u":0.155,"v":0.252,"n":1},{"u":0.245,"v":0.252,"n":2},{"u":0.305,"v":0.252,"n":2},{"u":0.365,"v":0.252,"n":2},{"u":0.395,"v":0.252,"n":3},{"u":0.425,"v":0.252,"n":4},{"u":0.455,"v":0.252,"n":4},{"u":0.485,"v":0.252,"n":5},{"u":0.515,"v":0.252,"n":3},{"u":0.545,"v":0.252,"n":4},{"u":0.575,"v":0.252,"n":3},{"u":0.605,"v":0.252,"n":2},{"u":0.635,"v":0.252,"n":2},{"u":0.725,"v":0.252,"n":1},{"u":0.845,"v":0.252,"n":1},
      {"u":0.155,"v":0.221,"n":2},{"u":0.245,"v":0.221,"n":1},{"u":0.305,"v":0.221,"n":3},{"u":0.335,"v":0.221,"n":2},{"u":0.365,"v":0.221,"n":3},{"u":0.395,"v":0.221,"n":3},{"u":0.425,"v":0.221,"n":4},{"u":0.455,"v":0.221,"n":3},{"u":0.485,"v":0.221,"n":4},{"u":0.515,"v":0.221,"n":4},{"u":0.545,"v":0.221,"n":3},{"u":0.575,"v":0.221,"n":2},{"u":0.605,"v":0.221,"n":2},{"u":0.635,"v":0.221,"n":3},{"u":0.665,"v":0.221,"n":2},{"u":0.785,"v":0.221,"n":1},
      {"u":0.155,"v":0.19,"n":2},{"u":0.245,"v":0.19,"n":3},{"u":0.305,"v":0.19,"n":2},{"u":0.365,"v":0.19,"n":3},{"u":0.395,"v":0.19,"n":3},{"u":0.425,"v":0.19,"n":3},{"u":0.455,"v":0.19,"n":3},{"u":0.485,"v":0.19,"n":4},{"u":0.515,"v":0.19,"n":3},{"u":0.545,"v":0.19,"n":3},{"u":0.575,"v":0.19,"n":2},{"u":0.635,"v":0.19,"n":2},{"u":0.695,"v":0.19,"n":2},{"u":0.815,"v":0.19,"n":2},
      {"u":0.125,"v":0.159,"n":1},{"u":0.215,"v":0.159,"n":2},{"u":0.275,"v":0.159,"n":3},{"u":0.305,"v":0.159,"n":2},{"u":0.335,"v":0.159,"n":2},{"u":0.365,"v":0.159,"n":3},{"u":0.425,"v":0.159,"n":3},{"u":0.485,"v":0.159,"n":3},{"u":0.515,"v":0.159,"n":3},{"u":0.545,"v":0.159,"n":3},{"u":0.605,"v":0.159,"n":3},{"u":0.635,"v":0.159,"n":2},{"u":0.695,"v":0.159,"n":2},{"u":0.785,"v":0.159,"n":1},{"u":0.845,"v":0.159,"n":2},
      {"u":0.095,"v":0.128,"n":2},{"u":0.185,"v":0.128,"n":1},{"u":0.245,"v":0.128,"n":3},{"u":0.305,"v":0.128,"n":2},{"u":0.365,"v":0.128,"n":2},{"u":0.395,"v":0.128,"n":2},{"u":0.455,"v":0.128,"n":3},{"u":0.485,"v":0.128,"n":2},{"u":0.545,"v":0.128,"n":3},{"u":0.605,"v":0.128,"n":3},{"u":0.695,"v":0.128,"n":2},{"u":0.755,"v":0.128,"n":1},{"u":0.845,"v":0.128,"n":1},
      {"u":0.125,"v":0.097,"n":2},{"u":0.245,"v":0.097,"n":1},{"u":0.305,"v":0.097,"n":1},{"u":0.365,"v":0.097,"n":2},{"u":0.425,"v":0.097,"n":1},{"u":0.485,"v":0.097,"n":1},{"u":0.575,"v":0.097,"n":1},{"u":0.665,"v":0.097,"n":1},{"u":0.785,"v":0.097,"n":1},{"u":0.815,"v":0.097,"n":1},
      {"u":0.245,"v":0.066,"n":1},{"u":0.275,"v":0.066,"n":1},{"u":0.395,"v":0.066,"n":1},{"u":0.545,"v":0.066,"n":1},{"u":0.605,"v":0.066,"n":1},{"u":0.665,"v":0.066,"n":1},{"u":0.755,"v":0.066,"n":1},
      {"u":0.215,"v":0.035,"n":1},{"u":0.425,"v":0.035,"n":1},{"u":0.545,"v":0.035,"n":1},{"u":0.695,"v":0.035,"n":1}
    ],
    "xh": [
      {"u":0,"v":0,"n":5},
      {"u":0.21,"v":0.975,"n":1},{"u":0.36,"v":0.975,"n":1},{"u":0.45,"v":0.975,"n":3},{"u":0.48,"v":0.975,"n":5},{"u":0.51,"v":0.975,"n":3},{"u":0.6,"v":0.975,"n":1},
      {"u":0.39,"v":0.95,"n":1},{"u":0.48,"v":0.95,"n":1},{"u":0.63,"v":0.95,"n":1},
      {"u":0.21,"v":0.925,"n":1},{"u":0.45,"v":0.925,"n":3},{"u":0.51,"v":0.925,"n":3},
      {"u":0.33,"v":0.9,"n":1},{"u":0.42,"v":0.9,"n":3},{"u":0.45,"v":0.9,"n":1},{"u":0.48,"v":0.9,"n":1},
      {"u":0.39,"v":0.875,"n":3},{"u":0.51,"v":0.875,"n":3},{"u":0.54,"v":0.875,"n":2},{"u":0.81,"v":0.875,"n":1},
      {"u":0.39,"v":0.85,"n":3},{"u":0.45,"v":0.85,"n":2},{"u":0.48,"v":0.85,"n":4},{"u":0.51,"v":0.85,"n":2},{"u":0.54,"v":0.85,"n":3},{"u":0.63,"v":0.85,"n":1},
      {"u":0.45,"v":0.825,"n":2},{"u":0.48,"v":0.825,"n":2},{"u":0.54,"v":0.825,"n":3},{"u":0.6,"v":0.825,"n":3},{"u":0.63,"v":0.825,"n":1},
      {"u":0.39,"v":0.8,"n":1},{"u":0.45,"v":0.8,"n":3},{"u":0.48,"v":0.8,"n":2},{"u":0.57,"v":0.8,"n":3},
      {"u":0.36,"v":0.775,"n":3},{"u":0.42,"v":0.775,"n":1},{"u":0.48,"v":0.775,"n":3},{"u":0.51,"v":0.775,"n":2},{"u":0.57,"v":0.775,"n":1},{"u":0.6,"v":0.775,"n":2},{"u":0.66,"v":0.775,"n":1},
      {"u":0.3,"v":0.75,"n":1},{"u":0.33,"v":0.75,"n":1},{"u":0.36,"v":0.75,"n":3},{"u":0.42,"v":0.75,"n":1},{"u":0.45,"v":0.75,"n":3},{"u":0.48,"v":0.75,"n":3},{"u":0.51,"v":0.75,"n":4},{"u":0.54,"v":0.75,"n":3},{"u":0.57,"v":0.75,"n":1},{"u":0.63,"v":0.75,"n":1},{"u":0.69,"v":0.75,"n":1},{"u":0.75,"v":0.75,"n":1},
      {"u":0.33,"v":0.725,"n":1},{"u":0.36,"v":0.725,"n":3},{"u":0.39,"v":0.725,"n":4},{"u":0.45,"v":0.725,"n":5},{"u":0.51,"v":0.725,"n":3},{"u":0.57,"v":0.725,"n":1},{"u":0.63,"v":0.725,"n":1},
      {"u":0.33,"v":0.7,"n":3},{"u":0.36,"v":0.7,"n":1},{"u":0.39,"v":0.7,"n":3},{"u":0.45,"v":0.7,"n":4},{"u":0.48,"v":0.7,"n":3},{"u":0.51,"v":0.7,"n":5},{"u":0.54,"v":0.7,"n":1},{"u":0.6,"v":0.7,"n":3},{"u":0.63,"v":0.7,"n":1},{"u":0.69,"v":0.7,"n":3},{"u":0.75,"v":0.7,"n":1},
      {"u":0.18,"v":0.675,"n":1},{"u":0.33,"v":0.675,"n":1},{"u":0.36,"v":0.675,"n":3},{"u":0.42,"v":0.675,"n":2},{"u":0.45,"v":0.675,"n":3},{"u":0.48,"v":0.675,"n":3},{"u":0.51,"v":0.675,"n":4},{"u":0.54,"v":0.675,"n":3},{"u":0.57,"v":0.675,"n":5},{"u":0.63,"v":0.675,"n":3},{"u":0.69,"v":0.675,"n":2},
      {"u":0.27,"v":0.65,"n":3},{"u":0.33,"v":0.65,"n":3},{"u":0.39,"v":0.65,"n":2},{"u":0.42,"v":0.65,"n":3},{"u":0.45,"v":0.65,"n":4},{"u":0.48,"v":0.65,"n":1},{"u":0.51,"v":0.65,"n":4},{"u":0.57,"v":0.65,"n":2},{"u":0.63,"v":0.65,"n":1},{"u":0.69,"v":0.65,"n":3},
      {"u":0.36,"v":0.625,"n":3},{"u":0.39,"v":0.625,"n":4},{"u":0.45,"v":0.625,"n":4},{"u":0.48,"v":0.625,"n":3},{"u":0.51,"v":0.625,"n":3},{"u":0.54,"v":0.625,"n":2},{"u":0.57,"v":0.625,"n":1},{"u":0.69,"v":0.625,"n":3},{"u":0.75,"v":0.625,"n":1},{"u":0.87,"v":0.625,"n":3},
      {"u":0.21,"v":0.6,"n":1},{"u":0.27,"v":0.6,"n":1},{"u":0.39,"v":0.6,"n":3},{"u":0.42,"v":0.6,"n":1},{"u":0.45,"v":0.6,"n":4},{"u":0.51,"v":0.6,"n":3},{"u":0.54,"v":0.6,"n":3},{"u":0.57,"v":0.6,"n":3},{"u":0.6,"v":0.6,"n":2},{"u":0.63,"v":0.6,"n":1},{"u":0.69,"v":0.6,"n":3},{"u":0.81,"v":0.6,"n":1},
      {"u":0.21,"v":0.575,"n":3},{"u":0.27,"v":0.575,"n":3},{"u":0.39,"v":0.575,"n":3},{"u":0.42,"v":0.575,"n":2},{"u":0.45,"v":0.575,"n":5},{"u":0.48,"v":0.575,"n":5},{"u":0.51,"v":0.575,"n":4},{"u":0.54,"v":0.575,"n":1},{"u":0.57,"v":0.575,"n":1},{"u":0.63,"v":0.575,"n":5},{"u":0.66,"v":0.575,"n":3},
      {"u":0.21,"v":0.55,"n":3},{"u":0.27,"v":0.55,"n":1},{"u":0.33,"v":0.55,"n":3},{"u":0.36,"v":0.55,"n":3},{"u":0.39,"v":0.55,"n":3},{"u":0.45,"v":0.55,"n":4},{"u":0.48,"v":0.55,"n":4},{"u":0.51,"v":0.55,"n":5},{"u":0.54,"v":0.55,"n":4},{"u":0.57,"v":0.55,"n":3},{"u":0.63,"v":0.55,"n":3},{"u":0.69,"v":0.55,"n":1},
      {"u":0.21,"v":0.525,"n":1},{"u":0.33,"v":0.525,"n":3},{"u":0.36,"v":0.525,"n":3},{"u":0.39,"v":0.525,"n":4},{"u":0.42,"v":0.525,"n":3},{"u":0.45,"v":0.525,"n":4},{"u":0.48,"v":0.525,"n":4},{"u":0.51,"v":0.525,"n":5},{"u":0.54,"v":0.525,"n":1},{"u":0.6,"v":0.525,"n":2},{"u":0.66,"v":0.525,"n":1},{"u":0.75,"v":0.525,"n":3},{"u":0.87,"v":0.525,"n":1},
      {"u":0.21,"v":0.5,"n":1},{"u":0.3,"v":0.5,"n":3},{"u":0.33,"v":0.5,"n":3},{"u":0.36,"v":0.5,"n":3},{"u":0.39,"v":0.5,"n":2},{"u":0.45,"v":0.5,"n":5},{"u":0.48,"v":0.5,"n":3},{"u":0.51,"v":0.5,"n":5},{"u":0.54,"v":0.5,"n":4},{"u":0.57,"v":0.5,"n":3},{"u":0.63,"v":0.5,"n":3},{"u":0.69,"v":0.5,"n":1},{"u":0.81,"v":0.5,"n":1},
      {"u":0.24,"v":0.475,"n":3},{"u":0.27,"v":0.475,"n":1},{"u":0.33,"v":0.475,"n":1},{"u":0.36,"v":0.475,"n":4},{"u":0.39,"v":0.475,"n":5},{"u":0.42,"v":0.475,"n":3},{"u":0.45,"v":0.475,"n":5},{"u":0.48,"v":0.475,"n":5},{"u":0.51,"v":0.475,"n":4},{"u":0.54,"v":0.475,"n":4},{"u":0.57,"v":0.475,"n":5},{"u":0.66,"v":0.475,"n":1},{"u":0.69,"v":0.475,"n":3},{"u":0.75,"v":0.475,"n":3},
      {"u":0.09,"v":0.45,"n":3},{"u":0.15,"v":0.45,"n":1},{"u":0.21,"v":0.45,"n":1},{"u":0.24,"v":0.45,"n":1},{"u":0.3,"v":0.45,"n":3},{"u":0.36,"v":0.45,"n":1},{"u":0.39,"v":0.45,"n":1},{"u":0.45,"v":0.45,"n":4},{"u":0.51,"v":0.45,"n":5},{"u":0.54,"v":0.45,"n":3},{"u":0.57,"v":0.45,"n":1},{"u":0.63,"v":0.45,"n":3},{"u":0.66,"v":0.45,"n":3},{"u":0.69,"v":0.45,"n":1},
      {"u":0.15,"v":0.425,"n":3},{"u":0.3,"v":0.425,"n":3},{"u":0.33,"v":0.425,"n":2},{"u":0.39,"v":0.425,"n":3},{"u":0.42,"v":0.425,"n":3},{"u":0.45,"v":0.425,"n":4},{"u":0.51,"v":0.425,"n":5},{"u":0.57,"v":0.425,"n":5},{"u":0.6,"v":0.425,"n":1},{"u":0.63,"v":0.425,"n":1},{"u":0.72,"v":0.425,"n":3},{"u":0.87,"v":0.425,"n":3},
      {"u":0.18,"v":0.4,"n":1},{"u":0.24,"v":0.4,"n":1},{"u":0.27,"v":0.4,"n":2},{"u":0.3,"v":0.4,"n":3},{"u":0.33,"v":0.4,"n":3},{"u":0.39,"v":0.4,"n":3},{"u":0.42,"v":0.4,"n":1},{"u":0.45,"v":0.4,"n":5},{"u":0.48,"v":0.4,"n":5},{"u":0.51,"v":0.4,"n":4},{"u":0.54,"v":0.4,"n":5},{"u":0.57,"v":0.4,"n":3},{"u":0.6,"v":0.4,"n":1},{"u":0.63,"v":0.4,"n":3},{"u":0.69,"v":0.4,"n":2},{"u":0.75,"v":0.4,"n":3},
      {"u":0.15,"v":0.375,"n":3},{"u":0.21,"v":0.375,"n":1},{"u":0.27,"v":0.375,"n":1},{"u":0.33,"v":0.375,"n":3},{"u":0.36,"v":0.375,"n":5},{"u":0.39,"v":0.375,"n":2},{"u":0.42,"v":0.375,"n":2},{"u":0.45,"v":0.375,"n":2},{"u":0.48,"v":0.375,"n":3},{"u":0.51,"v":0.375,"n":5},{"u":0.57,"v":0.375,"n":3},{"u":0.63,"v":0.375,"n":3},{"u":0.69,"v":0.375,"n":3},{"u":0.75,"v":0.375,"n":3},{"u":0.81,"v":0.375,"n":3},
      {"u":0.21,"v":0.35,"n":1},{"u":0.27,"v":0.35,"n":1},{"u":0.33,"v":0.35,"n":3},{"u":0.39,"v":0.35,"n":3},{"u":0.42,"v":0.35,"n":3},{"u":0.45,"v":0.35,"n":3},{"u":0.48,"v":0.35,"n":5},{"u":0.51,"v":0.35,"n":5},{"u":0.57,"v":0.35,"n":3},{"u":0.6,"v":0.35,"n":1},{"u":0.66,"v":0.35,"n":3},{"u":0.81,"v":0.35,"n":1},
      {"u":0.06,"v":0.325,"n":1},{"u":0.09,"v":0.325,"n":3},{"u":0.12,"v":0.325,"n":3},{"u":0.27,"v":0.325,"n":3},{"u":0.33,"v":0.325,"n":1},{"u":0.39,"v":0.325,"n":3},{"u":0.42,"v":0.325,"n":2},{"u":0.45,"v":0.325,"n":3},{"u":0.48,"v":0.325,"n":5},{"u":0.51,"v":0.325,"n":3},{"u":0.54,"v":0.325,"n":3},{"u":0.57,"v":0.325,"n":3},{"u":0.6,"v":0.325,"n":3},{"u":0.69,"v":0.325,"n":1},{"u":0.87,"v":0.325,"n":3},
      {"u":0.21,"v":0.3,"n":3},{"u":0.27,"v":0.3,"n":3},{"u":0.33,"v":0.3,"n":3},{"u":0.36,"v":0.3,"n":1},{"u":0.42,"v":0.3,"n":3},{"u":0.45,"v":0.3,"n":2},{"u":0.51,"v":0.3,"n":1},{"u":0.57,"v":0.3,"n":5},{"u":0.6,"v":0.3,"n":3},{"u":0.63,"v":0.3,"n":3},{"u":0.66,"v":0.3,"n":3},{"u":0.75,"v":0.3,"n":3},{"u":0.81,"v":0.3,"n":3},{"u":0.87,"v":0.3,"n":3},
      {"u":0.09,"v":0.275,"n":3},{"u":0.21,"v":0.275,"n":3},{"u":0.27,"v":0.275,"n":3},{"u":0.3,"v":0.275,"n":3},{"u":0.33,"v":0.275,"n":5},{"u":0.39,"v":0.275,"n":3},{"u":0.42,"v":0.275,"n":3},{"u":0.45,"v":0.275,"n":3},{"u":0.48,"v":0.275,"n":3},{"u":0.51,"v":0.275,"n":4},{"u":0.54,"v":0.275,"n":4},{"u":0.6,"v":0.275,"n":4},{"u":0.63,"v":0.275,"n":3},{"u":0.66,"v":0.275,"n":3},{"u":0.75,"v":0.275,"n":3},{"u":0.81,"v":0.275,"n":4},{"u":0.84,"v":0.275,"n":3},
      {"u":0.09,"v":0.25,"n":3},{"u":0.21,"v":0.25,"n":1},{"u":0.24,"v":0.25,"n":1},{"u":0.3,"v":0.25,"n":3},{"u":0.33,"v":0.25,"n":3},{"u":0.39,"v":0.25,"n":3},{"u":0.45,"v":0.25,"n":4},{"u":0.51,"v":0.25,"n":3},{"u":0.54,"v":0.25,"n":4},{"u":0.57,"v":0.25,"n":3},{"u":0.6,"v":0.25,"n":3},{"u":0.69,"v":0.25,"n":3},
      {"u":0.18,"v":0.225,"n":3},{"u":0.24,"v":0.225,"n":1},{"u":0.3,"v":0.225,"n":3},{"u":0.36,"v":0.225,"n":1},{"u":0.39,"v":0.225,"n":5},{"u":0.45,"v":0.225,"n":1},{"u":0.51,"v":0.225,"n":1},{"u":0.54,"v":0.225,"n":3},{"u":0.57,"v":0.225,"n":5},{"u":0.63,"v":0.225,"n":1},{"u":0.69,"v":0.225,"n":1},{"u":0.78,"v":0.225,"n":1},
      {"u":0.09,"v":0.2,"n":1},{"u":0.15,"v":0.2,"n":3},{"u":0.21,"v":0.2,"n":1},{"u":0.27,"v":0.2,"n":1},{"u":0.33,"v":0.2,"n":3},{"u":0.39,"v":0.2,"n":3},{"u":0.45,"v":0.2,"n":3},{"u":0.51,"v":0.2,"n":3},{"u":0.54,"v":0.2,"n":4},{"u":0.63,"v":0.2,"n":2},{"u":0.69,"v":0.2,"n":3},{"u":0.78,"v":0.2,"n":1},{"u":0.81,"v":0.2,"n":1},
      {"u":0.09,"v":0.175,"n":1},{"u":0.21,"v":0.175,"n":2},{"u":0.24,"v":0.175,"n":3},{"u":0.27,"v":0.175,"n":3},{"u":0.33,"v":0.175,"n":3},{"u":0.36,"v":0.175,"n":3},{"u":0.39,"v":0.175,"n":3},{"u":0.42,"v":0.175,"n":3},{"u":0.48,"v":0.175,"n":3},{"u":0.51,"v":0.175,"n":3},{"u":0.57,"v":0.175,"n":3},{"u":0.6,"v":0.175,"n":3},{"u":0.69,"v":0.175,"n":1},{"u":0.75,"v":0.175,"n":1},{"u":0.84,"v":0.175,"n":1},
      {"u":0.21,"v":0.15,"n":3},{"u":0.27,"v":0.15,"n":1},{"u":0.3,"v":0.15,"n":3},{"u":0.33,"v":0.15,"n":3},{"u":0.39,"v":0.15,"n":3},{"u":0.45,"v":0.15,"n":1},{"u":0.51,"v":0.15,"n":3},{"u":0.57,"v":0.15,"n":3},{"u":0.63,"v":0.15,"n":3},{"u":0.69,"v":0.15,"n":1},
      {"u":0.21,"v":0.125,"n":3},{"u":0.27,"v":0.125,"n":1},{"u":0.3,"v":0.125,"n":3},{"u":0.33,"v":0.125,"n":3},{"u":0.39,"v":0.125,"n":3},{"u":0.45,"v":0.125,"n":3},{"u":0.51,"v":0.125,"n":3},{"u":0.54,"v":0.125,"n":3},{"u":0.6,"v":0.125,"n":3},{"u":0.63,"v":0.125,"n":3},{"u":0.69,"v":0.125,"n":1},{"u":0.75,"v":0.125,"n":3},{"u":0.78,"v":0.125,"n":3},{"u":0.84,"v":0.125,"n":3},
      {"u":0.21,"v":0.1,"n":1},{"u":0.27,"v":0.1,"n":1},{"u":0.36,"v":0.1,"n":1},{"u":0.39,"v":0.1,"n":3},{"u":0.51,"v":0.1,"n":1},{"u":0.54,"v":0.1,"n":1},{"u":0.63,"v":0.1,"n":3},{"u":0.69,"v":0.1,"n":1},{"u":0.81,"v":0.1,"n":1},
      {"u":0.21,"v":0.075,"n":1},{"u":0.24,"v":0.075,"n":1},{"u":0.33,"v":0.075,"n":3},{"u":0.42,"v":0.075,"n":3},{"u":0.57,"v":0.075,"n":1}
    ],
    "yh": [
      {"u":0.005,"v":0,"n":5},{"u":0.965,"v":0,"n":4},
      {"u":0.485,"v":0.975,"n":5},
      {"u":0.455,"v":0.95,"n":1},{"u":0.485,"v":0.95,"n":2},{"u":0.515,"v":0.95,"n":1},
      {"u":0.455,"v":0.925,"n":2},{"u":0.485,"v":0.925,"n":3},{"u":0.515,"v":0.925,"n":2},
      {"u":0.455,"v":0.9,"n":2},{"u":0.485,"v":0.9,"n":1},{"u":0.515,"v":0.9,"n":3},
      {"u":0.425,"v":0.875,"n":2},{"u":0.455,"v":0.875,"n":3},{"u":0.485,"v":0.875,"n":5},{"u":0.515,"v":0.875,"n":2},{"u":0.545,"v":0.875,"n":3},
      {"u":0.425,"v":0.85,"n":3},{"u":0.455,"v":0.85,"n":2},{"u":0.485,"v":0.85,"n":2},{"u":0.545,"v":0.85,"n":2},
      {"u":0.425,"v":0.825,"n":1},{"u":0.455,"v":0.825,"n":3},{"u":0.485,"v":0.825,"n":2},{"u":0.515,"v":0.825,"n":2},{"u":0.545,"v":0.825,"n":1},
      {"u":0.395,"v":0.8,"n":2},{"u":0.425,"v":0.8,"n":3},{"u":0.485,"v":0.8,"n":2},{"u":0.515,"v":0.8,"n":3},{"u":0.545,"v":0.8,"n":2},{"u":0.575,"v":0.8,"n":2},
      {"u":0.395,"v":0.775,"n":3},{"u":0.455,"v":0.775,"n":3},{"u":0.485,"v":0.775,"n":2},{"u":0.515,"v":0.775,"n":2},{"u":0.545,"v":0.775,"n":3},{"u":0.575,"v":0.775,"n":2},
      {"u":0.365,"v":0.75,"n":1},{"u":0.395,"v":0.75,"n":2},{"u":0.425,"v":0.75,"n":3},{"u":0.455,"v":0.75,"n":2},{"u":0.515,"v":0.75,"n":3},{"u":0.545,"v":0.75,"n":2},{"u":0.575,"v":0.75,"n":3},
      {"u":0.365,"v":0.725,"n":3},{"u":0.395,"v":0.725,"n":3},{"u":0.425,"v":0.725,"n":2},{"u":0.455,"v":0.725,"n":4},{"u":0.485,"v":0.725,"n":3},{"u":0.515,"v":0.725,"n":4},{"u":0.545,"v":0.725,"n":2},{"u":0.605,"v":0.725,"n":3},
      {"u":0.335,"v":0.7,"n":2},{"u":0.365,"v":0.7,"n":2},{"u":0.395,"v":0.7,"n":3},{"u":0.455,"v":0.7,"n":3},{"u":0.485,"v":0.7,"n":3},{"u":0.515,"v":0.7,"n":2},{"u":0.545,"v":0.7,"n":3},{"u":0.575,"v":0.7,"n":2},{"u":0.605,"v":0.7,"n":2},{"u":0.635,"v":0.7,"n":1},
      {"u":0.365,"v":0.675,"n":3},{"u":0.425,"v":0.675,"n":3},{"u":0.455,"v":0.675,"n":3},{"u":0.485,"v":0.675,"n":3},{"u":0.515,"v":0.675,"n":3},{"u":0.545,"v":0.675,"n":2},{"u":0.575,"v":0.675,"n":2},{"u":0.605,"v":0.675,"n":2},
      {"u":0.305,"v":0.65,"n":1},{"u":0.335,"v":0.65,"n":2},{"u":0.365,"v":0.65,"n":2},{"u":0.425,"v":0.65,"n":3},{"u":0.455,"v":0.65,"n":3},{"u":0.485,"v":0.65,"n":4},{"u":0.515,"v":0.65,"n":3},{"u":0.545,"v":0.65,"n":3},{"u":0.605,"v":0.65,"n":2},{"u":0.635,"v":0.65,"n":2},{"u":0.665,"v":0.65,"n":3},
      {"u":0.335,"v":0.625,"n":2},{"u":0.365,"v":0.625,"n":3},{"u":0.395,"v":0.625,"n":2},{"u":0.425,"v":0.625,"n":4},{"u":0.455,"v":0.625,"n":3},{"u":0.485,"v":0.625,"n":3},{"u":0.515,"v":0.625,"n":4},{"u":0.575,"v":0.625,"n":3},{"u":0.605,"v":0.625,"n":2},{"u":0.635,"v":0.625,"n":2},
      {"u":0.275,"v":0.6,"n":2},{"u":0.335,"v":0.6,"n":2},{"u":0.365,"v":0.6,"n":3},{"u":0.395,"v":0.6,"n":3},{"u":0.425,"v":0.6,"n":4},{"u":0.455,"v":0.6,"n":3},{"u":0.485,"v":0.6,"n":4},{"u":0.515,"v":0.6,"n":3},{"u":0.545,"v":0.6,"n":4},{"u":0.605,"v":0.6,"n":2},{"u":0.665,"v":0.6,"n":2},{"u":0.695,"v":0.6,"n":1},
      {"u":0.335,"v":0.575,"n":1},{"u":0.365,"v":0.575,"n":2},{"u":0.395,"v":0.575,"n":3},{"u":0.425,"v":0.575,"n":4},{"u":0.455,"v":0.575,"n":5},{"u":0.485,"v":0.575,"n":4},{"u":0.515,"v":0.575,"n":5},{"u":0.545,"v":0.575,"n":4},{"u":0.575,"v":0.575,"n":3},{"u":0.635,"v":0.575,"n":1},
      {"u":0.215,"v":0.55,"n":1},{"u":0.275,"v":0.55,"n":1},{"u":0.305,"v":0.55,"n":2},{"u":0.365,"v":0.55,"n":2},{"u":0.395,"v":0.55,"n":3},{"u":0.425,"v":0.55,"n":3},{"u":0.455,"v":0.55,"n":4},{"u":0.485,"v":0.55,"n":3},{"u":0.515,"v":0.55,"n":4},{"u":0.545,"v":0.55,"n":3},{"u":0.575,"v":0.55,"n":3},{"u":0.665,"v":0.55,"n":1},{"u":0.695,"v":0.55,"n":2},
      {"u":0.215,"v":0.525,"n":2},{"u":0.305,"v":0.525,"n":2},{"u":0.365,"v":0.525,"n":3},{"u":0.395,"v":0.525,"n":3},{"u":0.425,"v":0.525,"n":5},{"u":0.455,"v":0.525,"n":4},{"u":0.485,"v":0.525,"n":3},{"u":0.515,"v":0.525,"n":5},{"u":0.545,"v":0.525,"n":5},{"u":0.575,"v":0.525,"n":3},{"u":0.605,"v":0.525,"n":2},{"u":0.665,"v":0.525,"n":2},{"u":0.695,"v":0.525,"n":2},
      {"u":0.215,"v":0.5,"n":1},{"u":0.245,"v":0.5,"n":2},{"u":0.305,"v":0.5,"n":2},{"u":0.365,"v":0.5,"n":2},{"u":0.395,"v":0.5,"n":3},{"u":0.425,"v":0.5,"n":4},{"u":0.455,"v":0.5,"n":4},{"u":0.485,"v":0.5,"n":5},{"u":0.515,"v":0.5,"n":4},{"u":0.545,"v":0.5,"n":3},{"u":0.575,"v":0.5,"n":3},{"u":0.605,"v":0.5,"n":2},{"u":0.665,"v":0.5,"n":2},{"u":0.695,"v":0.5,"n":2},{"u":0.755,"v":0.5,"n":1},
      {"u":0.245,"v":0.475,"n":2},{"u":0.305,"v":0.475,"n":2},{"u":0.365,"v":0.475,"n":2},{"u":0.395,"v":0.475,"n":3},{"u":0.425,"v":0.475,"n":4},{"u":0.455,"v":0.475,"n":5},{"u":0.485,"v":0.475,"n":4},{"u":0.515,"v":0.475,"n":4},{"u":0.545,"v":0.475,"n":3},{"u":0.575,"v":0.475,"n":2},{"u":0.605,"v":0.475,"n":2},{"u":0.665,"v":0.475,"n":2},{"u":0.725,"v":0.475,"n":2},
      {"u":0.185,"v":0.45,"n":2},{"u":0.275,"v":0.45,"n":2},{"u":0.335,"v":0.45,"n":2},{"u":0.365,"v":0.45,"n":3},{"u":0.395,"v":0.45,"n":3},{"u":0.425,"v":0.45,"n":5},{"u":0.455,"v":0.45,"n":5},{"u":0.485,"v":0.45,"n":5},{"u":0.515,"v":0.45,"n":4},{"u":0.545,"v":0.45,"n":3},{"u":0.575,"v":0.45,"n":2},{"u":0.605,"v":0.45,"n":2},{"u":0.695,"v":0.45,"n":2},{"u":0.755,"v":0.45,"n":2},
      {"u":0.215,"v":0.425,"n":2},{"u":0.305,"v":0.425,"n":2},{"u":0.335,"v":0.425,"n":2},{"u":0.365,"v":0.425,"n":3},{"u":0.395,"v":0.425,"n":2},{"u":0.425,"v":0.425,"n":4},{"u":0.455,"v":0.425,"n":4},{"u":0.485,"v":0.425,"n":4},{"u":0.515,"v":0.425,"n":3},{"u":0.545,"v":0.425,"n":3},{"u":0.605,"v":0.425,"n":2},{"u":0.725,"v":0.425,"n":2},
      {"u":0.185,"v":0.4,"n":1},{"u":0.245,"v":0.4,"n":2},{"u":0.305,"v":0.4,"n":2},{"u":0.335,"v":0.4,"n":2},{"u":0.395,"v":0.4,"n":3},{"u":0.425,"v":0.4,"n":3},{"u":0.455,"v":0.4,"n":4},{"u":0.485,"v":0.4,"n":4},{"u":0.515,"v":0.4,"n":3},{"u":0.545,"v":0.4,"n":2},{"u":0.575,"v":0.4,"n":3},{"u":0.635,"v":0.4,"n":2},{"u":0.695,"v":0.4,"n":2},{"u":0.785,"v":0.4,"n":1},
      {"u":0.185,"v":0.375,"n":2},{"u":0.305,"v":0.375,"n":2},{"u":0.335,"v":0.375,"n":2},{"u":0.365,"v":0.375,"n":3},{"u":0.395,"v":0.375,"n":3},{"u":0.425,"v":0.375,"n":3},{"u":0.455,"v":0.375,"n":3},{"u":0.485,"v":0.375,"n":4},{"u":0.515,"v":0.375,"n":3},{"u":0.545,"v":0.375,"n":3},{"u":0.575,"v":0.375,"n":2},{"u":0.605,"v":0.375,"n":2},{"u":0.665,"v":0.375,"n":2},{"u":0.725,"v":0.375,"n":2},
      {"u":0.155,"v":0.35,"n":1},{"u":0.185,"v":0.35,"n":2},{"u":0.275,"v":0.35,"n":2},{"u":0.335,"v":0.35,"n":3},{"u":0.365,"v":0.35,"n":3},{"u":0.395,"v":0.35,"n":3},{"u":0.425,"v":0.35,"n":4},{"u":0.455,"v":0.35,"n":3},{"u":0.485,"v":0.35,"n":4},{"u":0.515,"v":0.35,"n":3},{"u":0.575,"v":0.35,"n":3},{"u":0.635,"v":0.35,"n":2},{"u":0.695,"v":0.35,"n":2},{"u":0.755,"v":0.35,"n":2},
      {"u":0.215,"v":0.325,"n":1},{"u":0.245,"v":0.325,"n":2},{"u":0.305,"v":0.325,"n":2},{"u":0.365,"v":0.325,"n":3},{"u":0.395,"v":0.325,"n":4},{"u":0.425,"v":0.325,"n":3},{"u":0.455,"v":0.325,"n":3},{"u":0.485,"v":0.325,"n":3},{"u":0.515,"v":0.325,"n":4},{"u":0.545,"v":0.325,"n":3},{"u":0.575,"v":0.325,"n":2},{"u":0.605,"v":0.325,"n":3},{"u":0.635,"v":0.325,"n":2},{"u":0.725,"v":0.325,"n":2},
      {"u":0.125,"v":0.3,"n":2},{"u":0.215,"v":0.3,"n":2},{"u":0.335,"v":0.3,"n":2},{"u":0.365,"v":0.3,"n":2},{"u":0.395,"v":0.3,"n":3},{"u":0.425,"v":0.3,"n":4},{"u":0.455,"v":0.3,"n":4},{"u":0.485,"v":0.3,"n":3},{"u":0.515,"v":0.3,"n":4},{"u":0.545,"v":0.3,"n":3},{"u":0.575,"v":0.3,"n":3},{"u":0.605,"v":0.3,"n":2},{"u":0.665,"v":0.3,"n":2},{"u":0.815,"v":0.3,"n":2},
      {"u":0.155,"v":0.275,"n":2},{"u":0.245,"v":0.275,"n":2},{"u":0.305,"v":0.275,"n":2},{"u":0.335,"v":0.275,"n":3},{"u":0.365,"v":0.275,"n":3},{"u":0.395,"v":0.275,"n":3},{"u":0.425,"v":0.275,"n":4},{"u":0.455,"v":0.275,"n":3},{"u":0.485,"v":0.275,"n":4},{"u":0.515,"v":0.275,"n":3},{"u":0.545,"v":0.275,"n":4},{"u":0.605,"v":0.275,"n":3},{"u":0.665,"v":0.275,"n":2},{"u":0.755,"v":0.275,"n":2},
      {"u":0.185,"v":0.25,"n":2},{"u":0.245,"v":0.25,"n":2},{"u":0.305,"v":0.25,"n":2},{"u":0.365,"v":0.25,"n":3},{"u":0.395,"v":0.25,"n":3},{"u":0.425,"v":0.25,"n":4},{"u":0.455,"v":0.25,"n":3},{"u":0.485,"v":0.25,"n":4},{"u":0.515,"v":0.25,"n":3},{"u":0.545,"v":0.25,"n":3},{"u":0.575,"v":0.25,"n":2},{"u":0.605,"v":0.25,"n":2},{"u":0.665,"v":0.25,"n":2},{"u":0.785,"v":0.25,"n":2},
      {"u":0.125,"v":0.225,"n":2},{"u":0.185,"v":0.225,"n":2},{"u":0.275,"v":0.225,"n":2},{"u":0.335,"v":0.225,"n":2},{"u":0.365,"v":0.225,"n":3},{"u":0.425,"v":0.225,"n":4},{"u":0.455,"v":0.225,"n":3},{"u":0.485,"v":0.225,"n":4},{"u":0.515,"v":0.225,"n":3},{"u":0.545,"v":0.225,"n":4},{"u":0.605,"v":0.225,"n":2},{"u":0.635,"v":0.225,"n":2},{"u":0.725,"v":0.225,"n":2},
      {"u":0.155,"v":0.2,"n":2},{"u":0.245,"v":0.2,"n":2},{"u":0.305,"v":0.2,"n":2},{"u":0.365,"v":0.2,"n":3},{"u":0.425,"v":0.2,"n":3},{"u":0.455,"v":0.2,"n":4},{"u":0.485,"v":0.2,"n":3},{"u":0.515,"v":0.2,"n":3},{"u":0.545,"v":0.2,"n":3},{"u":0.575,"v":0.2,"n":3},{"u":0.605,"v":0.2,"n":2},{"u":0.665,"v":0.2,"n":2},{"u":0.695,"v":0.2,"n":2},{"u":0.845,"v":0.2,"n":1},
      {"u":0.185,"v":0.175,"n":2},{"u":0.305,"v":0.175,"n":3},{"u":0.365,"v":0.175,"n":2},{"u":0.395,"v":0.175,"n":3},{"u":0.425,"v":0.175,"n":2},{"u":0.455,"v":0.175,"n":3},{"u":0.485,"v":0.175,"n":3},{"u":0.515,"v":0.175,"n":3},{"u":0.575,"v":0.175,"n":3},{"u":0.605,"v":0.175,"n":3},{"u":0.695,"v":0.175,"n":2},
      {"u":0.185,"v":0.15,"n":2},{"u":0.245,"v":0.15,"n":2},{"u":0.305,"v":0.15,"n":2},{"u":0.365,"v":0.15,"n":3},{"u":0.425,"v":0.15,"n":2},{"u":0.455,"v":0.15,"n":3},{"u":0.485,"v":0.15,"n":3},{"u":0.545,"v":0.15,"n":3},{"u":0.575,"v":0.15,"n":2},{"u":0.665,"v":0.15,"n":2},{"u":0.725,"v":0.15,"n":2},
      {"u":0.185,"v":0.125,"n":2},{"u":0.275,"v":0.125,"n":2},{"u":0.365,"v":0.125,"n":2},{"u":0.395,"v":0.125,"n":3},{"u":0.455,"v":0.125,"n":2},{"u":0.485,"v":0.125,"n":2},{"u":0.545,"v":0.125,"n":3},{"u":0.605,"v":0.125,"n":2},{"u":0.725,"v":0.125,"n":2},
      {"u":0.155,"v":0.1,"n":1},{"u":0.215,"v":0.1,"n":1},{"u":0.335,"v":0.1,"n":3},{"u":0.425,"v":0.1,"n":2},{"u":0.545,"v":0.1,"n":2},{"u":0.605,"v":0.1,"n":1},{"u":0.755,"v":0.1,"n":1},
      {"u":0.125,"v":0.05,"n":1},{"u":0.305,"v":0.05,"n":3},{"u":0.365,"v":0.05,"n":1},{"u":0.425,"v":0.05,"n":1},{"u":0.515,"v":0.05,"n":1},{"u":0.575,"v":0.05,"n":1},{"u":0.665,"v":0.05,"n":1},{"u":0.845,"v":0.05,"n":1}
    ],
    "wh": [
      {"u":0.005,"v":0,"n":5},
      {"u":0.395,"v":0.975,"n":1},{"u":0.455,"v":0.975,"n":1},{"u":0.725,"v":0.975,"n":1},{"u":0.755,"v":0.975,"n":1},{"u":0.875,"v":0.975,"n":3},{"u":0.965,"v":0.975,"n":4},
      {"u":0.695,"v":0.95,"n":1},{"u":0.755,"v":0.95,"n":1},{"u":0.845,"v":0.95,"n":1},
      {"u":0.425,"v":0.925,"n":1},{"u":0.725,"v":0.925,"n":1},{"u":0.785,"v":0.925,"n":2},{"u":0.815,"v":0.925,"n":2},{"u":0.965,"v":0.925,"n":2},
      {"u":0.515,"v":0.9,"n":1},{"u":0.665,"v":0.9,"n":1},{"u":0.785,"v":0.9,"n":3},{"u":0.965,"v":0.9,"n":1},
      {"u":0.365,"v":0.875,"n":1},{"u":0.635,"v":0.875,"n":1},{"u":0.755,"v":0.875,"n":2},{"u":0.875,"v":0.875,"n":5},
      {"u":0.245,"v":0.85,"n":3},{"u":0.425,"v":0.85,"n":1},{"u":0.515,"v":0.85,"n":1},{"u":0.785,"v":0.85,"n":1},{"u":0.815,"v":0.85,"n":1},{"u":0.875,"v":0.85,"n":3},{"u":0.905,"v":0.85,"n":1},{"u":0.965,"v":0.85,"n":4},
      {"u":0.455,"v":0.825,"n":2},{"u":0.695,"v":0.825,"n":1},{"u":0.755,"v":0.825,"n":1},{"u":0.785,"v":0.825,"n":2},{"u":0.815,"v":0.825,"n":2},{"u":0.845,"v":0.825,"n":2},{"u":0.905,"v":0.825,"n":1},{"u":0.965,"v":0.825,"n":1},
      {"u":0.335,"v":0.8,"n":1},{"u":0.365,"v":0.8,"n":1},{"u":0.575,"v":0.8,"n":1},{"u":0.725,"v":0.8,"n":2},{"u":0.815,"v":0.8,"n":2},{"u":0.965,"v":0.8,"n":1},
      {"u":0.215,"v":0.775,"n":1},{"u":0.275,"v":0.775,"n":2},{"u":0.335,"v":0.775,"n":1},{"u":0.425,"v":0.775,"n":2},{"u":0.545,"v":0.775,"n":2},{"u":0.635,"v":0.775,"n":1},{"u":0.665,"v":0.775,"n":2},{"u":0.695,"v":0.775,"n":1},{"u":0.725,"v":0.775,"n":2},{"u":0.785,"v":0.775,"n":2},{"u":0.815,"v":0.775,"n":2},{"u":0.875,"v":0.775,"n":1},{"u":0.905,"v":0.775,"n":2},{"u":0.965,"v":0.775,"n":1},
      {"u":0.335,"v":0.75,"n":1},{"u":0.365,"v":0.75,"n":1},{"u":0.395,"v":0.75,"n":3},{"u":0.455,"v":0.75,"n":2},{"u":0.515,"v":0.75,"n":2},{"u":0.575,"v":0.75,"n":2},{"u":0.605,"v":0.75,"n":3},{"u":0.635,"v":0.75,"n":1},{"u":0.665,"v":0.75,"n":1},{"u":0.695,"v":0.75,"n":3},{"u":0.725,"v":0.75,"n":2},{"u":0.755,"v":0.75,"n":1},{"u":0.785,"v":0.75,"n":2},{"u":0.815,"v":0.75,"n":2},{"u":0.965,"v":0.75,"n":1},
      {"u":0.275,"v":0.725,"n":2},{"u":0.365,"v":0.725,"n":2},{"u":0.455,"v":0.725,"n":1},{"u":0.575,"v":0.725,"n":3},{"u":0.605,"v":0.725,"n":2},{"u":0.635,"v":0.725,"n":3},{"u":0.695,"v":0.725,"n":2},{"u":0.725,"v":0.725,"n":3},{"u":0.755,"v":0.725,"n":3},{"u":0.845,"v":0.725,"n":2},{"u":0.875,"v":0.725,"n":2},{"u":0.905,"v":0.725,"n":1},{"u":0.935,"v":0.725,"n":1},
      {"u":0.185,"v":0.7,"n":1},{"u":0.335,"v":0.7,"n":1},{"u":0.395,"v":0.7,"n":1},{"u":0.425,"v":0.7,"n":1},{"u":0.455,"v":0.7,"n":2},{"u":0.485,"v":0.7,"n":2},{"u":0.515,"v":0.7,"n":1},{"u":0.575,"v":0.7,"n":3},{"u":0.605,"v":0.7,"n":4},{"u":0.635,"v":0.7,"n":2},{"u":0.665,"v":0.7,"n":2},{"u":0.725,"v":0.7,"n":2},{"u":0.755,"v":0.7,"n":3},{"u":0.785,"v":0.7,"n":2},{"u":0.815,"v":0.7,"n":3},{"u":0.875,"v":0.7,"n":4},{"u":0.905,"v":0.7,"n":4},{"u":0.965,"v":0.7,"n":3},
      {"u":0.215,"v":0.675,"n":2},{"u":0.275,"v":0.675,"n":1},{"u":0.305,"v":0.675,"n":1},{"u":0.335,"v":0.675,"n":1},{"u":0.455,"v":0.675,"n":3},{"u":0.545,"v":0.675,"n":1},{"u":0.575,"v":0.675,"n":4},{"u":0.605,"v":0.675,"n":2},{"u":0.635,"v":0.675,"n":3},{"u":0.665,"v":0.675,"n":3},{"u":0.695,"v":0.675,"n":3},{"u":0.725,"v":0.675,"n":3},{"u":0.755,"v":0.675,"n":4},{"u":0.845,"v":0.675,"n":1},
      {"u":0.155,"v":0.65,"n":2},{"u":0.245,"v":0.65,"n":2},{"u":0.275,"v":0.65,"n":1},{"u":0.305,"v":0.65,"n":1},{"u":0.365,"v":0.65,"n":2},{"u":0.425,"v":0.65,"n":2},{"u":0.455,"v":0.65,"n":1},{"u":0.485,"v":0.65,"n":3},{"u":0.515,"v":0.65,"n":2},{"u":0.575,"v":0.65,"n":3},{"u":0.605,"v":0.65,"n":2},{"u":0.635,"v":0.65,"n":1},{"u":0.665,"v":0.65,"n":1},{"u":0.695,"v":0.65,"n":1},{"u":0.725,"v":0.65,"n":1},{"u":0.755,"v":0.65,"n":1},{"u":0.785,"v":0.65,"n":1},{"u":0.815,"v":0.65,"n":2},{"u":0.845,"v":0.65,"n":2},{"u":0.935,"v":0.65,"n":2},{"u":0.965,"v":0.65,"n":1},
      {"u":0.185,"v":0.625,"n":3},{"u":0.245,"v":0.625,"n":1},{"u":0.275,"v":0.625,"n":1},{"u":0.335,"v":0.625,"n":2},{"u":0.365,"v":0.625,"n":3},{"u":0.425,"v":0.625,"n":3},{"u":0.455,"v":0.625,"n":1},{"u":0.485,"v":0.625,"n":2},{"u":0.545,"v":0.625,"n":3},{"u":0.575,"v":0.625,"n":1},{"u":0.605,"v":0.625,"n":5},{"u":0.665,"v":0.625,"n":2},{"u":0.695,"v":0.625,"n":2},{"u":0.755,"v":0.625,"n":3},{"u":0.785,"v":0.625,"n":2},{"u":0.845,"v":0.625,"n":2},{"u":0.905,"v":0.625,"n":1},
      {"u":0.185,"v":0.6,"n":2},{"u":0.215,"v":0.6,"n":1},{"u":0.245,"v":0.6,"n":1},{"u":0.335,"v":0.6,"n":3},{"u":0.395,"v":0.6,"n":1},{"u":0.425,"v":0.6,"n":1},{"u":0.455,"v":0.6,"n":2},{"u":0.515,"v":0.6,"n":3},{"u":0.575,"v":0.6,"n":3},{"u":0.605,"v":0.6,"n":4},{"u":0.635,"v":0.6,"n":3},{"u":0.695,"v":0.6,"n":2},{"u":0.755,"v":0.6,"n":3},{"u":0.815,"v":0.6,"n":1},{"u":0.875,"v":0.6,"n":2},{"u":0.965,"v":0.6,"n":1},
      {"u":0.245,"v":0.575,"n":1},{"u":0.275,"v":0.575,"n":1},{"u":0.365,"v":0.575,"n":1},{"u":0.395,"v":0.575,"n":3},{"u":0.425,"v":0.575,"n":2},{"u":0.455,"v":0.575,"n":2},{"u":0.485,"v":0.575,"n":4},{"u":0.545,"v":0.575,"n":2},{"u":0.575,"v":0.575,"n":3},{"u":0.605,"v":0.575,"n":2},{"u":0.635,"v":0.575,"n":1},{"u":0.665,"v":0.575,"n":4},{"u":0.695,"v":0.575,"n":2},{"u":0.725,"v":0.575,"n":3},{"u":0.755,"v":0.575,"n":3},{"u":0.785,"v":0.575,"n":2},{"u":0.815,"v":0.575,"n":2},{"u":0.875,"v":0.575,"n":2},{"u":0.935,"v":0.575,"n":3},
      {"u":0.245,"v":0.55,"n":3},{"u":0.275,"v":0.55,"n":2},{"u":0.305,"v":0.55,"n":2},{"u":0.335,"v":0.55,"n":1},{"u":0.365,"v":0.55,"n":3},{"u":0.395,"v":0.55,"n":5},{"u":0.455,"v":0.55,"n":3},{"u":0.485,"v":0.55,"n":2},{"u":0.515,"v":0.55,"n":4},{"u":0.575,"v":0.55,"n":4},{"u":0.605,"v":0.55,"n":2},{"u":0.665,"v":0.55,"n":5},{"u":0.695,"v":0.55,"n":4},{"u":0.725,"v":0.55,"n":2},{"u":0.755,"v":0.55,"n":2},{"u":0.785,"v":0.55,"n":1},{"u":0.815,"v":0.55,"n":1},{"u":0.845,"v":0.55,"n":1},{"u":0.905,"v":0.55,"n":2},
      {"u":0.245,"v":0.525,"n":1},{"u":0.275,"v":0.525,"n":2},{"u":0.305,"v":0.525,"n":2},{"u":0.365,"v":0.525,"n":3},{"u":0.395,"v":0.525,"n":5},{"u":0.425,"v":0.525,"n":3},{"u":0.455,"v":0.525,"n":3},{"u":0.485,"v":0.525,"n":3},{"u":0.575,"v":0.525,"n":1},{"u":0.605,"v":0.525,"n":3},{"u":0.665,"v":0.525,"n":2},{"u":0.695,"v":0.525,"n":3},{"u":0.725,"v":0.525,"n":1},{"u":0.755,"v":0.525,"n":3},{"u":0.785,"v":0.525,"n":2},{"u":0.935,"v":0.525,"n":2},{"u":0.965,"v":0.525,"n":2},
      {"u":0.215,"v":0.5,"n":2},{"u":0.245,"v":0.5,"n":1},{"u":0.275,"v":0.5,"n":4},{"u":0.335,"v":0.5,"n":4},{"u":0.365,"v":0.5,"n":2},{"u":0.395,"v":0.5,"n":3},{"u":0.425,"v":0.5,"n":4},{"u":0.455,"v":0.5,"n":2},{"u":0.485,"v":0.5,"n":1},{"u":0.515,"v":0.5,"n":1},{"u":0.575,"v":0.5,"n":4},{"u":0.605,"v":0.5,"n":2},{"u":0.635,"v":0.5,"n":3},{"u":0.665,"v":0.5,"n":3},{"u":0.695,"v":0.5,"n":2},{"u":0.725,"v":0.5,"n":1},{"u":0.755,"v":0.5,"n":1},{"u":0.845,"v":0.5,"n":1},{"u":0.905,"v":0.5,"n":2},{"u":0.935,"v":0.5,"n":2},{"u":0.965,"v":0.5,"n":1},
      {"u":0.185,"v":0.475,"n":2},{"u":0.215,"v":0.475,"n":3},{"u":0.245,"v":0.475,"n":3},{"u":0.275,"v":0.475,"n":2},{"u":0.305,"v":0.475,"n":5},{"u":0.335,"v":0.475,"n":4},{"u":0.365,"v":0.475,"n":5},{"u":0.395,"v":0.475,"n":4},{"u":0.425,"v":0.475,"n":5},{"u":0.455,"v":0.475,"n":5},{"u":0.485,"v":0.475,"n":4},{"u":0.545,"v":0.475,"n":3},{"u":0.575,"v":0.475,"n":5},{"u":0.605,"v":0.475,"n":4},{"u":0.635,"v":0.475,"n":1},{"u":0.665,"v":0.475,"n":3},{"u":0.725,"v":0.475,"n":2},{"u":0.755,"v":0.475,"n":3},{"u":0.785,"v":0.475,"n":2},{"u":0.815,"v":0.475,"n":2},{"u":0.965,"v":0.475,"n":2},
      {"u":0.125,"v":0.45,"n":3},{"u":0.215,"v":0.45,"n":2},{"u":0.245,"v":0.45,"n":3},{"u":0.275,"v":0.45,"n":3},{"u":0.335,"v":0.45,"n":5},{"u":0.365,"v":0.45,"n":3},{"u":0.395,"v":0.45,"n":4},{"u":0.455,"v":0.45,"n":3},{"u":0.485,"v":0.45,"n":4},{"u":0.515,"v":0.45,"n":1},{"u":0.575,"v":0.45,"n":4},{"u":0.605,"v":0.45,"n":2},{"u":0.635,"v":0.45,"n":3},{"u":0.665,"v":0.45,"n":1},{"u":0.695,"v":0.45,"n":2},{"u":0.725,"v":0.45,"n":2},{"u":0.755,"v":0.45,"n":1},{"u":0.845,"v":0.45,"n":1},{"u":0.875,"v":0.45,"n":1},{"u":0.905,"v":0.45,"n":1},
      {"u":0.185,"v":0.425,"n":2},{"u":0.245,"v":0.425,"n":4},{"u":0.275,"v":0.425,"n":4},{"u":0.335,"v":0.425,"n":3},{"u":0.365,"v":0.425,"n":3},{"u":0.395,"v":0.425,"n":5},{"u":0.425,"v":0.425,"n":2},{"u":0.485,"v":0.425,"n":2},{"u":0.545,"v":0.425,"n":3},{"u":0.575,"v":0.425,"n":5},{"u":0.605,"v":0.425,"n":4},{"u":0.635,"v":0.425,"n":1},{"u":0.665,"v":0.425,"n":2},{"u":0.725,"v":0.425,"n":3},{"u":0.785,"v":0.425,"n":1},{"u":0.815,"v":0.425,"n":2},{"u":0.845,"v":0.425,"n":2},
      {"u":0.125,"v":0.4,"n":1},{"u":0.155,"v":0.4,"n":1},{"u":0.185,"v":0.4,"n":2},{"u":0.215,"v":0.4,"n":5},{"u":0.245,"v":0.4,"n":3},{"u":0.275,"v":0.4,"n":5},{"u":0.305,"v":0.4,"n":3},{"u":0.335,"v":0.4,"n":4},{"u":0.365,"v":0.4,"n":5},{"u":0.395,"v":0.4,"n":2},{"u":0.455,"v":0.4,"n":5},{"u":0.485,"v":0.4,"n":4},{"u":0.515,"v":0.4,"n":2},{"u":0.575,"v":0.4,"n":2},{"u":0.605,"v":0.4,"n":2},{"u":0.635,"v":0.4,"n":1},{"u":0.665,"v":0.4,"n":2},{"u":0.755,"v":0.4,"n":2},{"u":0.785,"v":0.4,"n":2},{"u":0.845,"v":0.4,"n":1},{"u":0.965,"v":0.4,"n":2},
      {"u":0.125,"v":0.375,"n":1},{"u":0.185,"v":0.375,"n":1},{"u":0.215,"v":0.375,"n":3},{"u":0.275,"v":0.375,"n":4},{"u":0.305,"v":0.375,"n":4},{"u":0.335,"v":0.375,"n":1},{"u":0.365,"v":0.375,"n":5},{"u":0.395,"v":0.375,"n":3},{"u":0.425,"v":0.375,"n":4},{"u":0.455,"v":0.375,"n":3},{"u":0.485,"v":0.375,"n":5},{"u":0.545,"v":0.375,"n":2},{"u":0.575,"v":0.375,"n":3},{"u":0.605,"v":0.375,"n":1},{"u":0.635,"v":0.375,"n":4},{"u":0.665,"v":0.375,"n":1},{"u":0.695,"v":0.375,"n":1},{"u":0.725,"v":0.375,"n":2},{"u":0.755,"v":0.375,"n":2},{"u":0.785,"v":0.375,"n":2},
      {"u":0.155,"v":0.35,"n":2},{"u":0.215,"v":0.35,"n":3},{"u":0.245,"v":0.35,"n":3},{"u":0.275,"v":0.35,"n":3},{"u":0.305,"v":0.35,"n":3},{"u":0.335,"v":0.35,"n":3},{"u":0.365,"v":0.35,"n":3},{"u":0.395,"v":0.35,"n":4},{"u":0.425,"v":0.35,"n":3},{"u":0.455,"v":0.35,"n":4},{"u":0.515,"v":0.35,"n":3},{"u":0.575,"v":0.35,"n":2},{"u":0.605,"v":0.35,"n":3},{"u":0.665,"v":0.35,"n":3},{"u":0.725,"v":0.35,"n":1},{"u":0.755,"v":0.35,"n":2},{"u":0.845,"v":0.35,"n":2},
      {"u":0.125,"v":0.325,"n":1},{"u":0.155,"v":0.325,"n":2},{"u":0.185,"v":0.325,"n":4},{"u":0.215,"v":0.325,"n":1},{"u":0.245,"v":0.325,"n":4},{"u":0.275,"v":0.325,"n":1},{"u":0.305,"v":0.325,"n":2},{"u":0.335,"v":0.325,"n":2},{"u":0.365,"v":0.325,"n":3},{"u":0.395,"v":0.325,"n":3},{"u":0.425,"v":0.325,"n":1},{"u":0.455,"v":0.325,"n":1},{"u":0.605,"v":0.325,"n":4},{"u":0.635,"v":0.325,"n":4},{"u":0.665,"v":0.325,"n":1},{"u":0.725,"v":0.325,"n":1},{"u":0.755,"v":0.325,"n":2},{"u":0.815,"v":0.325,"n":1},
      {"u":0.095,"v":0.3,"n":1},{"u":0.155,"v":0.3,"n":2},{"u":0.185,"v":0.3,"n":1},{"u":0.215,"v":0.3,"n":4},{"u":0.245,"v":0.3,"n":3},{"u":0.275,"v":0.3,"n":3},{"u":0.305,"v":0.3,"n":4},{"u":0.335,"v":0.3,"n":2},{"u":0.365,"v":0.3,"n":4},{"u":0.395,"v":0.3,"n":3},{"u":0.425,"v":0.3,"n":3},{"u":0.455,"v":0.3,"n":3},{"u":0.485,"v":0.3,"n":3},{"u":0.695,"v":0.3,"n":2},
      {"u":0.125,"v":0.275,"n":2},{"u":0.155,"v":0.275,"n":2},{"u":0.185,"v":0.275,"n":5},{"u":0.215,"v":0.275,"n":5},{"u":0.245,"v":0.275,"n":3},{"u":0.275,"v":0.275,"n":3},{"u":0.305,"v":0.275,"n":5},{"u":0.335,"v":0.275,"n":5},{"u":0.365,"v":0.275,"n":3},{"u":0.395,"v":0.275,"n":5},{"u":0.425,"v":0.275,"n":2},{"u":0.605,"v":0.275,"n":1},{"u":0.635,"v":0.275,"n":1},{"u":0.665,"v":0.275,"n":2},{"u":0.785,"v":0.275,"n":2},
      {"u":0.095,"v":0.25,"n":2},{"u":0.125,"v":0.25,"n":3},{"u":0.155,"v":0.25,"n":3},{"u":0.185,"v":0.25,"n":3},{"u":0.215,"v":0.25,"n":4},{"u":0.245,"v":0.25,"n":3},{"u":0.275,"v":0.25,"n":3},{"u":0.305,"v":0.25,"n":3},{"u":0.335,"v":0.25,"n":1},{"u":0.365,"v":0.25,"n":1},{"u":0.395,"v":0.25,"n":1},{"u":0.425,"v":0.25,"n":1},{"u":0.455,"v":0.25,"n":3},{"u":0.575,"v":0.25,"n":1},{"u":0.665,"v":0.25,"n":2},
      {"u":0.095,"v":0.225,"n":3},{"u":0.125,"v":0.225,"n":3},{"u":0.155,"v":0.225,"n":4},{"u":0.185,"v":0.225,"n":4},{"u":0.215,"v":0.225,"n":3},{"u":0.245,"v":0.225,"n":5},{"u":0.275,"v":0.225,"n":1},{"u":0.305,"v":0.225,"n":2},{"u":0.335,"v":0.225,"n":4},{"u":0.365,"v":0.225,"n":2},{"u":0.395,"v":0.225,"n":2},{"u":0.425,"v":0.225,"n":1},{"u":0.485,"v":0.225,"n":1},
      {"u":0.065,"v":0.2,"n":1},{"u":0.095,"v":0.2,"n":2},{"u":0.125,"v":0.2,"n":2},{"u":0.155,"v":0.2,"n":5},{"u":0.185,"v":0.2,"n":4},{"u":0.215,"v":0.2,"n":4},{"u":0.245,"v":0.2,"n":3},{"u":0.275,"v":0.2,"n":3},{"u":0.305,"v":0.2,"n":3},{"u":0.335,"v":0.2,"n":3},{"u":0.365,"v":0.2,"n":2},{"u":0.875,"v":0.2,"n":2},
      {"u":0.095,"v":0.175,"n":4},{"u":0.125,"v":0.175,"n":2},{"u":0.155,"v":0.175,"n":3},{"u":0.185,"v":0.175,"n":3},{"u":0.215,"v":0.175,"n":1},{"u":0.245,"v":0.175,"n":4},{"u":0.275,"v":0.175,"n":1},{"u":0.305,"v":0.175,"n":5},{"u":0.335,"v":0.175,"n":2},{"u":0.365,"v":0.175,"n":3},{"u":0.425,"v":0.175,"n":2},
      {"u":0.035,"v":0.15,"n":1},{"u":0.065,"v":0.15,"n":1},{"u":0.095,"v":0.15,"n":5},{"u":0.125,"v":0.15,"n":5},{"u":0.155,"v":0.15,"n":3},{"u":0.185,"v":0.15,"n":4},{"u":0.215,"v":0.15,"n":2},{"u":0.245,"v":0.15,"n":3},{"u":0.275,"v":0.15,"n":1},
      {"u":0.095,"v":0.125,"n":5},{"u":0.125,"v":0.125,"n":5},{"u":0.155,"v":0.125,"n":4},{"u":0.185,"v":0.125,"n":4},{"u":0.215,"v":0.125,"n":3},
      {"u":0.035,"v":0.1,"n":1},{"u":0.065,"v":0.1,"n":3},{"u":0.095,"v":0.1,"n":4},{"u":0.125,"v":0.1,"n":2},{"u":0.155,"v":0.1,"n":2},{"u":0.185,"v":0.1,"n":1},
      {"u":0.035,"v":0.075,"n":1},{"u":0.065,"v":0.075,"n":1},{"u":0.095,"v":0.075,"n":1},{"u":0.125,"v":0.075,"n":3},{"u":0.155,"v":0.075,"n":1}
    ]
  },
  "concat": [
    {
      "width": 430, "height": 441, "data": {"name": "hx"},
      "mark": {"type": "bar", "fill": "#5799c7", "stroke": "#1c2b38", "strokeWidth": 1.2},
      "encoding": {
        "x": {"field": "b", "type": "quantitative", "bin": {"binned": true, "step": 0.01815}, "scale": {"domain": [-0.0454, 0.9529], "nice": false, "zero": false}, "axis": {"values": [0, 0.25, 0.5, 0.75], "labels": false, "title": null}},
        "y": {"field": "c", "type": "quantitative", "scale": {"domain": [0, 218.5]}, "axis": null}
      }
    },
    {"width": 430, "height": 441, "data": {"values": []}, "mark": "point"},
    {"width": 430, "height": 441, "data": {"values": []}, "mark": "point"},
    {"width": 430, "height": 441, "data": {"values": []}, "mark": "point"},
    {
      "width": 430, "height": 441, "data": {"name": "xy"},
      "mark": {"type": "rect"},
      "encoding": {
        "x": {"field": "u", "type": "quantitative", "bin": {"binned": true, "step": 0.03}, "scale": {"domain": [-0.0454, 0.9529], "nice": false, "zero": false}, "axis": {"values": [0, 0.25, 0.5, 0.75], "labels": false, "title": null}},
        "y": {"field": "v", "type": "quantitative", "bin": {"binned": true, "step": 0.03}, "scale": {"domain": [-0.05, 1.05], "nice": false, "zero": false}, "axis": {"values": [0, 0.2, 0.4, 0.6, 0.8, 1], "format": ".1f", "title": "y"}},
        "color": {"field": "n", "type": "quantitative", "scale": {"domain": [1, 2, 3, 4, 5], "range": ["#a6c8ee", "#65acec", "#2e93e2", "#2f6ea8", "#354a66"]}, "legend": null}
      }
    },
    {
      "width": 430, "height": 441, "data": {"name": "hy"},
      "mark": {"type": "bar", "fill": "#5799c7", "stroke": "#1c2b38", "strokeWidth": 1.2},
      "encoding": {
        "x": {"field": "b", "type": "quantitative", "bin": {"binned": true, "step": 0.02}, "scale": {"domain": [-0.05, 1.05], "nice": false, "zero": false}, "axis": {"values": [0, 0.5, 1], "labels": false, "title": null}},
        "y": {"field": "c", "type": "quantitative", "scale": {"domain": [0, 218.5]}, "axis": null}
      }
    },
    {"width": 430, "height": 441, "data": {"values": []}, "mark": "point"},
    {"width": 430, "height": 441, "data": {"values": []}, "mark": "point"},
    {
      "width": 430, "height": 441, "data": {"name": "xw"},
      "mark": {"type": "rect"},
      "encoding": {
        "x": {"field": "u", "type": "quantitative", "bin": {"binned": true, "step": 0.03}, "scale": {"domain": [-0.0454, 0.9529], "nice": false, "zero": false}, "axis": {"values": [0, 0.25, 0.5, 0.75], "labels": false, "title": null}},
        "y": {"field": "v", "type": "quantitative", "bin": {"binned": true, "step": 0.031}, "scale": {"domain": [-0.05, 1.05], "nice": false, "zero": false}, "axis": {"values": [0, 0.2, 0.4, 0.6, 0.8, 1], "format": ".1f", "title": "width"}},
        "color": {"field": "n", "type": "quantitative", "scale": {"domain": [1, 2, 3, 4, 5], "range": ["#a6c8ee", "#65acec", "#2e93e2", "#2f6ea8", "#354a66"]}, "legend": null}
      }
    },
    {
      "width": 430, "height": 441, "data": {"name": "yw"},
      "mark": {"type": "rect"},
      "encoding": {
        "x": {"field": "u", "type": "quantitative", "bin": {"binned": true, "step": 0.03}, "scale": {"domain": [-0.05, 1.05], "nice": false, "zero": false}, "axis": {"values": [0, 0.5, 1], "labels": false, "title": null}},
        "y": {"field": "v", "type": "quantitative", "bin": {"binned": true, "step": 0.031}, "scale": {"domain": [-0.05, 1.05], "nice": false, "zero": false}, "axis": {"values": [0, 0.2, 0.4, 0.6, 0.8, 1], "labels": false, "title": null}},
        "color": {"field": "n", "type": "quantitative", "scale": {"domain": [1, 2, 3, 4, 5], "range": ["#a6c8ee", "#65acec", "#2e93e2", "#2f6ea8", "#354a66"]}, "legend": null}
      }
    },
    {
      "width": 430, "height": 441, "data": {"name": "hw"},
      "mark": {"type": "bar", "fill": "#5799c7", "stroke": "#1c2b38", "strokeWidth": 1.2},
      "encoding": {
        "x": {"field": "b", "type": "quantitative", "bin": {"binned": true, "step": 0.02}, "scale": {"domain": [-0.05, 1.05], "nice": false, "zero": false}, "axis": {"values": [0, 0.5, 1], "labels": false, "title": null}},
        "y": {"field": "c", "type": "quantitative", "scale": {"domain": [0, 218.5]}, "axis": null}
      }
    },
    {"width": 430, "height": 441, "data": {"values": []}, "mark": "point"},
    {
      "width": 430, "height": 441, "data": {"name": "xh"},
      "mark": {"type": "rect"},
      "encoding": {
        "x": {"field": "u", "type": "quantitative", "bin": {"binned": true, "step": 0.03}, "scale": {"domain": [-0.0454, 0.9529], "nice": false, "zero": false}, "axis": {"values": [0, 0.25, 0.5, 0.75], "format": ".2f", "title": "x"}},
        "y": {"field": "v", "type": "quantitative", "bin": {"binned": true, "step": 0.025}, "scale": {"domain": [-0.05, 1.05], "nice": false, "zero": false}, "axis": {"values": [0, 0.2, 0.4, 0.6, 0.8, 1], "format": ".1f", "title": "height"}},
        "color": {"field": "n", "type": "quantitative", "scale": {"domain": [1, 2, 3, 4, 5], "range": ["#a6c8ee", "#65acec", "#2e93e2", "#2f6ea8", "#354a66"]}, "legend": null}
      }
    },
    {
      "width": 430, "height": 441, "data": {"name": "yh"},
      "mark": {"type": "rect"},
      "encoding": {
        "x": {"field": "u", "type": "quantitative", "bin": {"binned": true, "step": 0.03}, "scale": {"domain": [-0.05, 1.05], "nice": false, "zero": false}, "axis": {"values": [0, 0.5, 1], "format": ".1f", "title": "y"}},
        "y": {"field": "v", "type": "quantitative", "bin": {"binned": true, "step": 0.025}, "scale": {"domain": [-0.05, 1.05], "nice": false, "zero": false}, "axis": {"values": [0, 0.2, 0.4, 0.6, 0.8, 1], "labels": false, "title": null}},
        "color": {"field": "n", "type": "quantitative", "scale": {"domain": [1, 2, 3, 4, 5], "range": ["#a6c8ee", "#65acec", "#2e93e2", "#2f6ea8", "#354a66"]}, "legend": null}
      }
    },
    {
      "width": 430, "height": 441, "data": {"name": "wh"},
      "mark": {"type": "rect"},
      "encoding": {
        "x": {"field": "u", "type": "quantitative", "bin": {"binned": true, "step": 0.03}, "scale": {"domain": [-0.05, 1.05], "nice": false, "zero": false}, "axis": {"values": [0, 0.5, 1], "format": ".1f", "title": "width"}},
        "y": {"field": "v", "type": "quantitative", "bin": {"binned": true, "step": 0.025}, "scale": {"domain": [-0.05, 1.05], "nice": false, "zero": false}, "axis": {"values": [0, 0.2, 0.4, 0.6, 0.8, 1], "labels": false, "title": null}},
        "color": {"field": "n", "type": "quantitative", "scale": {"domain": [1, 2, 3, 4, 5], "range": ["#a6c8ee", "#65acec", "#2e93e2", "#2f6ea8", "#354a66"]}, "legend": null}
      }
    },
    {
      "width": 430, "height": 441,
      "layer": [
        {
          "data": {"name": "hh"},
          "mark": {"type": "bar", "fill": "#5799c7", "stroke": "#1c2b38", "strokeWidth": 1.2},
          "encoding": {
            "x": {"field": "b", "type": "quantitative", "bin": {"binned": true, "step": 0.02}, "scale": {"domain": [-0.05, 1.05], "nice": false, "zero": false}, "axis": {"values": [0, 0.5, 1], "format": ".1f", "title": "height"}},
            "y": {"field": "c", "type": "quantitative", "scale": {"domain": [0, 218.5]}, "axis": null}
          }
        },
        {
          "data": {"values": [{"b": 0.364, "c": -45.6, "t": "CSDN @斌擎科技"}]},
          "mark": {"type": "text", "align": "left", "baseline": "middle", "font": "Noto Sans CJK SC", "fontSize": 39, "color": "#c8c8c8"},
          "encoding": {
            "x": {"field": "b", "type": "quantitative"},
            "y": {"field": "c", "type": "quantitative"},
            "text": {"field": "t"}
          }
        }
      ]
    }
  ],
  "config": {
    "view": {"stroke": null},
    "font": "DejaVu Sans",
    "bar": {"binSpacing": 0},
    "axis": {
      "grid": false,
      "domainColor": "#000000", "domainWidth": 2.2,
      "tickColor": "#000000", "tickWidth": 2.2, "tickSize": 10,
      "labelFont": "DejaVu Sans", "labelFontSize": 28, "labelColor": "#000000", "labelPadding": 9,
      "labelFlush": false, "labelOverlap": false, "labelBound": false,
      "titleFont": "DejaVu Sans", "titleFontSize": 28, "titleFontWeight": "normal", "titleColor": "#000000", "titlePadding": 10
    }
  }
}
